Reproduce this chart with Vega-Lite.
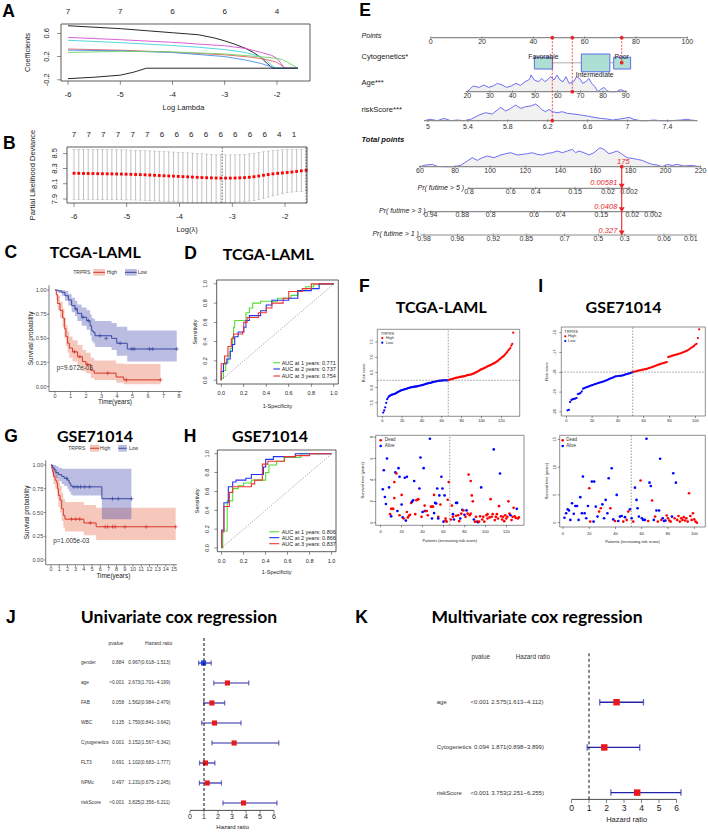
{
"$schema": "https://vega.github.io/schema/vega-lite/v6.json",
"width": 708, "height": 832,
"autosize": {"type": "none"},
"padding": 0,
"background": "white",
"config": {
  "view": {"stroke": null},
  "font": "Liberation Sans",
  "text": {"font": "Liberation Sans", "color": "#222"},
  "tick": {"color": "#222", "thickness": 0.7}
},
"datasets": {
  "lasso": [
    {"s":"k1","l":-6,"c":0.73},{"s":"k1","l":-5.5,"c":0.705},{"s":"k1","l":-5,"c":0.68},{"s":"k1","l":-4.5,"c":0.645},{"s":"k1","l":-4,"c":0.61},{"s":"k1","l":-3.5,"c":0.575},{"s":"k1","l":-3.2,"c":0.52},{"s":"k1","l":-3,"c":0.47},{"s":"k1","l":-2.8,"c":0.41},{"s":"k1","l":-2.6,"c":0.34},{"s":"k1","l":-2.45,"c":0.27},{"s":"k1","l":-2.3,"c":0.18},{"s":"k1","l":-2.2,"c":0.09},{"s":"k1","l":-2.08,"c":0},{"s":"k1","l":-1.6,"c":0},
    {"s":"mg","l":-6,"c":0.53},{"s":"mg","l":-5,"c":0.49},{"s":"mg","l":-4,"c":0.445},{"s":"mg","l":-3.5,"c":0.415},{"s":"mg","l":-3,"c":0.385},{"s":"mg","l":-2.6,"c":0.34},{"s":"mg","l":-2.3,"c":0.27},{"s":"mg","l":-2.1,"c":0.22},{"s":"mg","l":-2,"c":0.17},{"s":"mg","l":-1.92,"c":0.08},{"s":"mg","l":-1.86,"c":0},{"s":"mg","l":-1.6,"c":0},
    {"s":"cy","l":-6,"c":0.48},{"s":"cy","l":-5,"c":0.44},{"s":"cy","l":-4,"c":0.39},{"s":"cy","l":-3.5,"c":0.36},{"s":"cy","l":-3,"c":0.32},{"s":"cy","l":-2.6,"c":0.27},{"s":"cy","l":-2.35,"c":0.21},{"s":"cy","l":-2.2,"c":0.13},{"s":"cy","l":-2.1,"c":0.05},{"s":"cy","l":-2.02,"c":0},{"s":"cy","l":-1.6,"c":0},
    {"s":"rd","l":-6,"c":0.33},{"s":"rd","l":-5,"c":0.31},{"s":"rd","l":-4,"c":0.275},{"s":"rd","l":-3,"c":0.23},{"s":"rd","l":-2.5,"c":0.19},{"s":"rd","l":-2.2,"c":0.15},{"s":"rd","l":-2,"c":0.1},{"s":"rd","l":-1.9,"c":0.04},{"s":"rd","l":-1.85,"c":0},{"s":"rd","l":-1.6,"c":0},
    {"s":"bl","l":-6,"c":0.31},{"s":"bl","l":-5,"c":0.3},{"s":"bl","l":-4,"c":0.27},{"s":"bl","l":-3,"c":0.2},{"s":"bl","l":-2.6,"c":0.14},{"s":"bl","l":-2.3,"c":0.08},{"s":"bl","l":-2.1,"c":0.02},{"s":"bl","l":-2.05,"c":0},{"s":"bl","l":-1.6,"c":0},
    {"s":"gr","l":-6,"c":0.27},{"s":"gr","l":-5,"c":0.29},{"s":"gr","l":-4,"c":0.28},{"s":"gr","l":-3,"c":0.245},{"s":"gr","l":-2.5,"c":0.21},{"s":"gr","l":-2.1,"c":0.18},{"s":"gr","l":-1.9,"c":0.15},{"s":"gr","l":-1.75,"c":0.08},{"s":"gr","l":-1.6,"c":0},
    {"s":"k2","l":-6,"c":-0.18},{"s":"k2","l":-5.5,"c":-0.155},{"s":"k2","l":-5,"c":-0.12},{"s":"k2","l":-4.75,"c":-0.07},{"s":"k2","l":-4.5,"c":0},{"s":"k2","l":-1.6,"c":0}
  ],
  "cv": [
    {"l":-6.0,"d":8.238,"lo":7.896,"hi":8.552},{"l":-5.91,"d":8.237,"lo":7.896,"hi":8.552},{"l":-5.82,"d":8.236,"lo":7.896,"hi":8.552},{"l":-5.731,"d":8.235,"lo":7.896,"hi":8.551},{"l":-5.641,"d":8.234,"lo":7.895,"hi":8.551},{"l":-5.551,"d":8.233,"lo":7.895,"hi":8.55},{"l":-5.461,"d":8.232,"lo":7.894,"hi":8.55},{"l":-5.371,"d":8.231,"lo":7.894,"hi":8.549},{"l":-5.282,"d":8.23,"lo":7.893,"hi":8.548},{"l":-5.192,"d":8.229,"lo":7.892,"hi":8.547},
    {"l":-5.102,"d":8.228,"lo":7.891,"hi":8.546},{"l":-5.012,"d":8.226,"lo":7.89,"hi":8.544},{"l":-4.922,"d":8.224,"lo":7.889,"hi":8.542},{"l":-4.833,"d":8.222,"lo":7.887,"hi":8.54},{"l":-4.743,"d":8.22,"lo":7.885,"hi":8.537},{"l":-4.653,"d":8.218,"lo":7.883,"hi":8.534},{"l":-4.563,"d":8.215,"lo":7.88,"hi":8.531},{"l":-4.473,"d":8.212,"lo":7.877,"hi":8.528},{"l":-4.384,"d":8.209,"lo":7.874,"hi":8.525},{"l":-4.294,"d":8.206,"lo":7.871,"hi":8.522},
    {"l":-4.204,"d":8.203,"lo":7.868,"hi":8.519},{"l":-4.114,"d":8.2,"lo":7.865,"hi":8.516},{"l":-4.024,"d":8.197,"lo":7.862,"hi":8.513},{"l":-3.935,"d":8.194,"lo":7.86,"hi":8.51},{"l":-3.845,"d":8.191,"lo":7.858,"hi":8.506},{"l":-3.755,"d":8.188,"lo":7.856,"hi":8.502},{"l":-3.665,"d":8.185,"lo":7.855,"hi":8.498},{"l":-3.576,"d":8.182,"lo":7.854,"hi":8.494},{"l":-3.486,"d":8.18,"lo":7.853,"hi":8.49},{"l":-3.396,"d":8.178,"lo":7.852,"hi":8.486},
    {"l":-3.306,"d":8.176,"lo":7.852,"hi":8.482},{"l":-3.216,"d":8.175,"lo":7.852,"hi":8.48},{"l":-3.127,"d":8.175,"lo":7.853,"hi":8.479},{"l":-3.037,"d":8.175,"lo":7.855,"hi":8.479},{"l":-2.947,"d":8.176,"lo":7.858,"hi":8.48},{"l":-2.857,"d":8.178,"lo":7.862,"hi":8.482},{"l":-2.767,"d":8.181,"lo":7.867,"hi":8.486},{"l":-2.678,"d":8.186,"lo":7.874,"hi":8.492},{"l":-2.588,"d":8.193,"lo":7.883,"hi":8.5},{"l":-2.498,"d":8.202,"lo":7.895,"hi":8.51},
    {"l":-2.408,"d":8.212,"lo":7.91,"hi":8.52},{"l":-2.318,"d":8.222,"lo":7.925,"hi":8.53},{"l":-2.229,"d":8.23,"lo":7.94,"hi":8.538},{"l":-2.139,"d":8.237,"lo":7.955,"hi":8.543},{"l":-2.049,"d":8.243,"lo":7.97,"hi":8.547},{"l":-1.959,"d":8.249,"lo":7.983,"hi":8.55},{"l":-1.869,"d":8.255,"lo":7.992,"hi":8.552},{"l":-1.78,"d":8.262,"lo":7.998,"hi":8.553},{"l":-1.69,"d":8.27,"lo":8.002,"hi":8.554},{"l":-1.6,"d":8.278,"lo":8.005,"hi":8.555}
  ],
  "kmC": [
    {"g":"High","t":0,"s":1,"lo":1,"hi":1},{"g":"High","t":0.08,"s":0.95,"lo":0.9,"hi":1},{"g":"High","t":0.17,"s":0.86,"lo":0.79,"hi":0.94},{"g":"High","t":0.32,"s":0.79,"lo":0.71,"hi":0.88},{"g":"High","t":0.49,"s":0.71,"lo":0.62,"hi":0.81},{"g":"High","t":0.6,"s":0.6,"lo":0.5,"hi":0.71},{"g":"High","t":0.7,"s":0.52,"lo":0.42,"hi":0.64},{"g":"High","t":0.81,"s":0.45,"lo":0.35,"hi":0.57},{"g":"High","t":0.92,"s":0.4,"lo":0.3,"hi":0.52},{"g":"High","t":1.13,"s":0.36,"lo":0.26,"hi":0.48},{"g":"High","t":1.45,"s":0.31,"lo":0.21,"hi":0.43},{"g":"High","t":1.77,"s":0.26,"lo":0.16,"hi":0.38},{"g":"High","t":1.99,"s":0.23,"lo":0.14,"hi":0.35},{"g":"High","t":2.3,"s":0.17,"lo":0.09,"hi":0.3},{"g":"High","t":2.52,"s":0.14,"lo":0.07,"hi":0.27},{"g":"High","t":3.94,"s":0.1,"lo":0.04,"hi":0.24},{"g":"High","t":4.43,"s":0.07,"lo":0.025,"hi":0.235},{"g":"High","t":6.8,"s":0.07,"lo":0.025,"hi":0.235},
    {"g":"Low","t":0,"s":1,"lo":1,"hi":1},{"g":"Low","t":0.21,"s":0.99,"lo":0.97,"hi":1},{"g":"Low","t":0.43,"s":0.976,"lo":0.94,"hi":1},{"g":"Low","t":0.64,"s":0.941,"lo":0.89,"hi":0.99},{"g":"Low","t":0.86,"s":0.897,"lo":0.84,"hi":0.96},{"g":"Low","t":1.07,"s":0.838,"lo":0.77,"hi":0.92},{"g":"Low","t":1.29,"s":0.804,"lo":0.73,"hi":0.89},{"g":"Low","t":1.44,"s":0.759,"lo":0.68,"hi":0.85},{"g":"Low","t":1.72,"s":0.718,"lo":0.63,"hi":0.82},{"g":"Low","t":2.04,"s":0.683,"lo":0.59,"hi":0.79},{"g":"Low","t":2.26,"s":0.631,"lo":0.53,"hi":0.75},{"g":"Low","t":2.36,"s":0.579,"lo":0.47,"hi":0.71},{"g":"Low","t":2.47,"s":0.562,"lo":0.45,"hi":0.7},{"g":"Low","t":2.58,"s":0.527,"lo":0.41,"hi":0.68},{"g":"Low","t":3.65,"s":0.5,"lo":0.38,"hi":0.66},{"g":"Low","t":3.98,"s":0.449,"lo":0.32,"hi":0.62},{"g":"Low","t":4.66,"s":0.39,"lo":0.26,"hi":0.58},{"g":"Low","t":7.85,"s":0.39,"lo":0.26,"hi":0.58}
  ],
  "censC": [
    {"g":"High","t":1.25,"s":0.36},{"g":"High","t":1.6,"s":0.31},{"g":"High","t":2.1,"s":0.23},{"g":"High","t":3.4,"s":0.14},{"g":"High","t":4.6,"s":0.07},{"g":"High","t":6.8,"s":0.07},
    {"g":"Low","t":1.35,"s":0.804},{"g":"Low","t":1.8,"s":0.718},{"g":"Low","t":2.15,"s":0.683},{"g":"Low","t":2.9,"s":0.527},{"g":"Low","t":3.3,"s":0.5},{"g":"Low","t":4.2,"s":0.449},{"g":"Low","t":4.95,"s":0.39},{"g":"Low","t":5.1,"s":0.39},{"g":"Low","t":6.1,"s":0.39},{"g":"Low","t":6.3,"s":0.39},{"g":"Low","t":7.85,"s":0.39}
  ],
  "kmG": [
    {"g":"High","t":0,"s":1,"lo":1,"hi":1},{"g":"High","t":0.1,"s":0.96,"lo":0.91,"hi":1},{"g":"High","t":0.2,"s":0.93,"lo":0.86,"hi":1},{"g":"High","t":0.3,"s":0.88,"lo":0.8,"hi":0.97},{"g":"High","t":0.5,"s":0.84,"lo":0.75,"hi":0.94},{"g":"High","t":0.7,"s":0.81,"lo":0.71,"hi":0.92},{"g":"High","t":0.8,"s":0.75,"lo":0.64,"hi":0.87},{"g":"High","t":0.9,"s":0.68,"lo":0.56,"hi":0.82},{"g":"High","t":1.1,"s":0.63,"lo":0.5,"hi":0.78},{"g":"High","t":1.3,"s":0.54,"lo":0.41,"hi":0.7},{"g":"High","t":1.5,"s":0.47,"lo":0.34,"hi":0.64},{"g":"High","t":1.7,"s":0.43,"lo":0.3,"hi":0.61},{"g":"High","t":4.0,"s":0.39,"lo":0.26,"hi":0.58},{"g":"High","t":5.5,"s":0.35,"lo":0.21,"hi":0.55},{"g":"High","t":15.2,"s":0.35,"lo":0.21,"hi":0.55},
    {"g":"Low","t":0,"s":1,"lo":1,"hi":1},{"g":"Low","t":0.2,"s":0.97,"lo":0.92,"hi":1},{"g":"Low","t":0.4,"s":0.95,"lo":0.89,"hi":1},{"g":"Low","t":0.6,"s":0.92,"lo":0.86,"hi":0.99},{"g":"Low","t":0.9,"s":0.9,"lo":0.83,"hi":0.97},{"g":"Low","t":1.3,"s":0.88,"lo":0.8,"hi":0.96},{"g":"Low","t":1.6,"s":0.86,"lo":0.78,"hi":0.96},{"g":"Low","t":2.0,"s":0.84,"lo":0.75,"hi":0.96},{"g":"Low","t":2.2,"s":0.81,"lo":0.72,"hi":0.96},{"g":"Low","t":2.4,"s":0.78,"lo":0.69,"hi":0.96},{"g":"Low","t":2.6,"s":0.77,"lo":0.68,"hi":0.96},{"g":"Low","t":6.2,"s":0.645,"lo":0.43,"hi":0.96},{"g":"Low","t":9.8,"s":0.645,"lo":0.43,"hi":0.96}
  ],
  "censG": [
    {"g":"High","t":2.5,"s":0.43},{"g":"High","t":3.0,"s":0.43},{"g":"High","t":3.5,"s":0.43},{"g":"High","t":4.8,"s":0.39},{"g":"High","t":6.6,"s":0.35},{"g":"High","t":6.9,"s":0.35},{"g":"High","t":7.5,"s":0.35},{"g":"High","t":7.8,"s":0.35},{"g":"High","t":9.0,"s":0.35},{"g":"High","t":11.6,"s":0.35},{"g":"High","t":15.2,"s":0.35},
    {"g":"Low","t":1.9,"s":0.86},{"g":"Low","t":2.8,"s":0.77},{"g":"Low","t":3.2,"s":0.77},{"g":"Low","t":3.6,"s":0.77},{"g":"Low","t":4.1,"s":0.77},{"g":"Low","t":4.7,"s":0.77},{"g":"Low","t":7.5,"s":0.645},{"g":"Low","t":8.2,"s":0.645},{"g":"Low","t":9.8,"s":0.645}
  ],
  "rocD": [
    {"c":"1","x":0,"y":0},{"c":"1","x":0.02,"y":0.02},{"c":"1","x":0.04,"y":0.1},{"c":"1","x":0.06,"y":0.18},{"c":"1","x":0.08,"y":0.25},{"c":"1","x":0.1,"y":0.33},{"c":"1","x":0.11,"y":0.45},{"c":"1","x":0.12,"y":0.55},{"c":"1","x":0.22,"y":0.62},{"c":"1","x":0.25,"y":0.7},{"c":"1","x":0.28,"y":0.75},{"c":"1","x":0.35,"y":0.8},{"c":"1","x":0.5,"y":0.82},{"c":"1","x":0.62,"y":0.85},{"c":"1","x":0.68,"y":0.88},{"c":"1","x":0.75,"y":0.93},{"c":"1","x":0.82,"y":0.97},{"c":"1","x":0.87,"y":0.99},{"c":"1","x":1,"y":1},
    {"c":"2","x":0,"y":0},{"c":"2","x":0.02,"y":0.09},{"c":"2","x":0.05,"y":0.17},{"c":"2","x":0.08,"y":0.22},{"c":"2","x":0.1,"y":0.3},{"c":"2","x":0.12,"y":0.37},{"c":"2","x":0.15,"y":0.45},{"c":"2","x":0.2,"y":0.5},{"c":"2","x":0.22,"y":0.55},{"c":"2","x":0.25,"y":0.62},{"c":"2","x":0.35,"y":0.67},{"c":"2","x":0.4,"y":0.72},{"c":"2","x":0.45,"y":0.78},{"c":"2","x":0.6,"y":0.83},{"c":"2","x":0.68,"y":0.85},{"c":"2","x":0.8,"y":0.93},{"c":"2","x":0.87,"y":0.95},{"c":"2","x":1,"y":1},
    {"c":"3","x":0,"y":0},{"c":"3","x":0.03,"y":0.17},{"c":"3","x":0.06,"y":0.25},{"c":"3","x":0.09,"y":0.35},{"c":"3","x":0.11,"y":0.43},{"c":"3","x":0.19,"y":0.48},{"c":"3","x":0.2,"y":0.5},{"c":"3","x":0.23,"y":0.6},{"c":"3","x":0.33,"y":0.65},{"c":"3","x":0.4,"y":0.7},{"c":"3","x":0.45,"y":0.75},{"c":"3","x":0.55,"y":0.8},{"c":"3","x":0.6,"y":0.85},{"c":"3","x":0.72,"y":0.92},{"c":"3","x":0.8,"y":0.95},{"c":"3","x":1,"y":1}
  ],
  "rocH": [
    {"c":"1","x":0,"y":0},{"c":"1","x":0.01,"y":0},{"c":"1","x":0.05,"y":0.18},{"c":"1","x":0.1,"y":0.5},{"c":"1","x":0.15,"y":0.63},{"c":"1","x":0.2,"y":0.66},{"c":"1","x":0.27,"y":0.69},{"c":"1","x":0.4,"y":0.72},{"c":"1","x":0.43,"y":0.8},{"c":"1","x":0.5,"y":0.88},{"c":"1","x":0.57,"y":0.92},{"c":"1","x":0.72,"y":0.96},{"c":"1","x":1,"y":1},
    {"c":"2","x":0,"y":0},{"c":"2","x":0.02,"y":0.19},{"c":"2","x":0.06,"y":0.48},{"c":"2","x":0.1,"y":0.65},{"c":"2","x":0.13,"y":0.7},{"c":"2","x":0.22,"y":0.72},{"c":"2","x":0.27,"y":0.74},{"c":"2","x":0.38,"y":0.78},{"c":"2","x":0.4,"y":0.86},{"c":"2","x":0.47,"y":0.94},{"c":"2","x":0.67,"y":0.97},{"c":"2","x":1,"y":1},
    {"c":"3","x":0,"y":0},{"c":"3","x":0.02,"y":0.17},{"c":"3","x":0.07,"y":0.44},{"c":"3","x":0.1,"y":0.59},{"c":"3","x":0.27,"y":0.65},{"c":"3","x":0.3,"y":0.68},{"c":"3","x":0.37,"y":0.72},{"c":"3","x":0.42,"y":0.89},{"c":"3","x":0.57,"y":0.92},{"c":"3","x":0.67,"y":0.97},{"c":"3","x":0.8,"y":0.98},{"c":"3","x":1,"y":1}
  ],
  "ageD": [
    {"x":14.26,"y":2.668},{"x":15.58,"y":2.536},{"x":16.55,"y":2.44},{"x":18.93,"y":2.496},{"x":20.7,"y":2.4},{"x":22.55,"y":2.496},{"x":24.31,"y":2.44},{"x":26.07,"y":2.336},{"x":27.84,"y":2.4},{"x":29.6,"y":2.496},{"x":31.36,"y":2.44},{"x":33.22,"y":2.336},{"x":34.98,"y":2.416},{"x":36.74,"y":2.268},{"x":38.51,"y":2.176},{"x":39.12,"y":2.0},{"x":40.36,"y":2.2},{"x":42.12,"y":2.268},{"x":43.27,"y":2.136},{"x":44.5,"y":2.268},{"x":45.65,"y":2.176},{"x":46.79,"y":2.068},{"x":48.03,"y":2.2},{"x":49.17,"y":2.0},{"x":50.41,"y":2.2},{"x":51.55,"y":2.268},{"x":52.7,"y":2.068},{"x":53.94,"y":2.336},{"x":55.7,"y":2.268},{"x":56.85,"y":2.068},{"x":58.35,"y":2.176},{"x":59.23,"y":2.336},{"x":60.46,"y":2.268},{"x":61.61,"y":2.136},{"x":62.75,"y":2.336},{"x":63.99,"y":2.468},{"x":65.13,"y":2.668},{"x":66.28,"y":2.576},{"x":67.51,"y":2.496},{"x":68.66,"y":2.628},{"x":69.81,"y":2.668},{"x":72.45,"y":2.668},{"x":73.33,"y":2.608},{"x":74.22,"y":2.588},{"x":75.1,"y":2.628},{"x":75.98,"y":2.668}
  ],
  "riskD": [
    {"x":-2.61,"y":3.828},{"x":-0.01,"y":3.775},{"x":2.59,"y":3.828},{"x":5.19,"y":3.735},{"x":7.79,"y":3.828},{"x":10.38,"y":3.801},{"x":12.98,"y":3.828},{"x":15.58,"y":3.775},{"x":18.83,"y":3.601},{"x":21.42,"y":3.508},{"x":24.02,"y":3.561},{"x":25.97,"y":3.401},{"x":27.27,"y":3.295},{"x":29.22,"y":3.441},{"x":31.16,"y":3.335},{"x":33.11,"y":3.201},{"x":35.06,"y":3.335},{"x":37.0,"y":3.268},{"x":38.95,"y":3.241},{"x":40.9,"y":3.161},{"x":42.2,"y":3.268},{"x":43.5,"y":3.401},{"x":44.8,"y":3.468},{"x":46.09,"y":3.375},{"x":47.39,"y":3.468},{"x":49.34,"y":3.508},{"x":51.29,"y":3.468},{"x":53.24,"y":3.535},{"x":55.83,"y":3.561},{"x":58.43,"y":3.601},{"x":61.03,"y":3.641},{"x":63.63,"y":3.695},{"x":66.22,"y":3.735},{"x":68.82,"y":3.761},{"x":70.77,"y":3.801},{"x":72.72,"y":3.775},{"x":75.32,"y":3.735},{"x":77.27,"y":3.695},{"x":79.21,"y":3.775},{"x":81.81,"y":3.828},{"x":84.41,"y":3.828},{"x":87.01,"y":3.801},{"x":89.6,"y":3.828},{"x":93.5,"y":3.828},{"x":97.4,"y":3.801},{"x":100.0,"y":3.775},{"x":101.3,"y":3.801},{"x":103.9,"y":3.828}
  ],
  "totD": [
    {"x":-4.17,"y":5.668},{"x":-1.96,"y":5.601},{"x":0.64,"y":5.575},{"x":2.58,"y":5.655},{"x":5.18,"y":5.668},{"x":9.07,"y":5.668},{"x":11.67,"y":5.615},{"x":14.27,"y":5.441},{"x":16.22,"y":5.308},{"x":18.17,"y":5.415},{"x":20.11,"y":5.308},{"x":22.06,"y":5.241},{"x":24.66,"y":5.308},{"x":27.26,"y":5.201},{"x":29.2,"y":5.148},{"x":31.15,"y":5.108},{"x":33.75,"y":5.201},{"x":35.7,"y":5.175},{"x":37.64,"y":5.148},{"x":39.59,"y":5.108},{"x":41.54,"y":5.175},{"x":43.49,"y":5.201},{"x":45.43,"y":5.135},{"x":47.38,"y":5.108},{"x":49.33,"y":5.041},{"x":51.28,"y":5.108},{"x":53.23,"y":5.041},{"x":55.17,"y":4.975},{"x":56.47,"y":5.108},{"x":57.77,"y":5.041},{"x":59.72,"y":5.108},{"x":61.67,"y":5.201},{"x":63.61,"y":5.108},{"x":65.95,"y":4.908},{"x":67.51,"y":4.975},{"x":69.46,"y":5.148},{"x":70.76,"y":5.108},{"x":72.71,"y":5.041},{"x":74.65,"y":5.175},{"x":76.6,"y":5.308},{"x":78.55,"y":5.335},{"x":80.5,"y":5.375},{"x":82.45,"y":5.415},{"x":84.4,"y":5.508},{"x":86.35,"y":5.575},{"x":88.29,"y":5.601},{"x":90.24,"y":5.668},{"x":92.19,"y":5.575},{"x":94.14,"y":5.615},{"x":96.09,"y":5.575},{"x":98.68,"y":5.641},{"x":101.28,"y":5.615},{"x":105.18,"y":5.668}
  ],
  "nomAx": [
    {"y":0.508,"a":0,"b":100},{"y":2.668,"a":13.6,"b":76.6},{"y":3.828,"a":-2.6,"b":103.9},{"y":5.668,"a":-4.56,"b":105.2},{"y":6.532,"a":14.27,"b":77.9},{"y":7.468,"a":-1.3,"b":87.7},{"y":8.4,"a":-4.0,"b":103.8}
  ],
  "nomTk": [
    {"x":0,"ay":0.508,"ly":0.66,"t":"0"},{"x":20,"ay":0.508,"ly":0.66,"t":"20"},{"x":40,"ay":0.508,"ly":0.66,"t":"40"},{"x":60,"ay":0.508,"ly":0.66,"t":"60"},{"x":80,"ay":0.508,"ly":0.66,"t":"80"},{"x":100,"ay":0.508,"ly":0.66,"t":"100"},
    {"x":14.26,"ay":2.668,"ly":2.84,"t":"20"},{"x":23.08,"ay":2.668,"ly":2.84,"t":"30"},{"x":31.89,"ay":2.668,"ly":2.84,"t":"40"},{"x":40.71,"ay":2.668,"ly":2.84,"t":"50"},{"x":49.53,"ay":2.668,"ly":2.84,"t":"60"},{"x":58.35,"ay":2.668,"ly":2.84,"t":"70"},{"x":67.16,"ay":2.668,"ly":2.84,"t":"80"},{"x":75.98,"ay":2.668,"ly":2.84,"t":"90"},
    {"x":-1.05,"ay":3.828,"ly":4.07,"t":"5"},{"x":14.5,"ay":3.828,"ly":4.07,"t":"5.4"},{"x":30.05,"ay":3.828,"ly":4.07,"t":"5.8"},{"x":45.6,"ay":3.828,"ly":4.07,"t":"6.2"},{"x":61.15,"ay":3.828,"ly":4.07,"t":"6.6"},{"x":76.7,"ay":3.828,"ly":4.07,"t":"7"},{"x":92.25,"ay":3.828,"ly":4.07,"t":"7.4"},
    {"x":-4.17,"ay":5.668,"ly":5.82,"t":"60"},{"x":9.5,"ay":5.668,"ly":5.82,"t":"80"},{"x":23.17,"ay":5.668,"ly":5.82,"t":"100"},{"x":36.84,"ay":5.668,"ly":5.82,"t":"120"},{"x":50.51,"ay":5.668,"ly":5.82,"t":"140"},{"x":64.18,"ay":5.668,"ly":5.82,"t":"160"},{"x":77.85,"ay":5.668,"ly":5.82,"t":"180"},{"x":91.52,"ay":5.668,"ly":5.82,"t":"200"},{"x":105.19,"ay":5.668,"ly":5.82,"t":"220"},
    {"x":14.93,"ay":6.532,"ly":6.69,"t":"0.8"},{"x":31.18,"ay":6.532,"ly":6.69,"t":"0.6"},{"x":40.92,"ay":6.532,"ly":6.69,"t":"0.4"},{"x":56.24,"ay":6.532,"ly":6.69,"t":"0.15"},{"x":69.1,"ay":6.532,"ly":6.69,"t":"0.02"},{"x":77.28,"ay":6.532,"ly":6.69,"t":"0.002"},
    {"x":0,"ay":7.468,"ly":7.61,"t":"0.94"},{"x":12.31,"ay":7.468,"ly":7.61,"t":"0.88"},{"x":23.38,"ay":7.468,"ly":7.61,"t":"0.8"},{"x":40.26,"ay":7.468,"ly":7.61,"t":"0.6"},{"x":50.66,"ay":7.468,"ly":7.61,"t":"0.4"},{"x":66.48,"ay":7.468,"ly":7.61,"t":"0.15"},{"x":78.57,"ay":7.468,"ly":7.61,"t":"0.02"},{"x":86.63,"ay":7.468,"ly":7.61,"t":"0.002"},
    {"x":-2.61,"ay":8.4,"ly":8.55,"t":"0.98"},{"x":10.37,"ay":8.4,"ly":8.55,"t":"0.96"},{"x":24.4,"ay":8.4,"ly":8.55,"t":"0.92"},{"x":37.26,"ay":8.4,"ly":8.55,"t":"0.85"},{"x":52.22,"ay":8.4,"ly":8.55,"t":"0.7"},{"x":65.32,"ay":8.4,"ly":8.55,"t":"0.5"},{"x":75.6,"ay":8.4,"ly":8.55,"t":"0.3"},{"x":90.92,"ay":8.4,"ly":8.55,"t":"0.06"},{"x":101.33,"ay":8.4,"ly":8.55,"t":"0.01"}
  ],
  "riskF": [
    {"p":1,"v":5.18,"g":"L"},{"p":2,"v":5.25,"g":"L"},{"p":3,"v":5.35,"g":"L"},{"p":4,"v":5.5,"g":"L"},{"p":5,"v":5.62,"g":"L"},{"p":6,"v":5.68,"g":"L"},{"p":7,"v":5.72,"g":"L"},{"p":8,"v":5.74,"g":"L"},{"p":9,"v":5.76,"g":"L"},{"p":10,"v":5.77,"g":"L"},{"p":11,"v":5.78,"g":"L"},{"p":12,"v":5.79,"g":"L"},{"p":13,"v":5.8,"g":"L"},{"p":14,"v":5.82,"g":"L"},{"p":15,"v":5.84,"g":"L"},{"p":16,"v":5.86,"g":"L"},{"p":17,"v":5.88,"g":"L"},{"p":18,"v":5.89,"g":"L"},{"p":19,"v":5.91,"g":"L"},{"p":20,"v":5.92,"g":"L"},{"p":21,"v":5.93,"g":"L"},{"p":22,"v":5.94,"g":"L"},{"p":23,"v":5.95,"g":"L"},{"p":24,"v":5.96,"g":"L"},{"p":25,"v":5.97,"g":"L"},{"p":26,"v":5.98,"g":"L"},{"p":27,"v":5.99,"g":"L"},{"p":28,"v":6.0,"g":"L"},{"p":29,"v":6.01,"g":"L"},{"p":30,"v":6.02,"g":"L"},{"p":31,"v":6.02,"g":"L"},{"p":32,"v":6.03,"g":"L"},{"p":33,"v":6.03,"g":"L"},{"p":34,"v":6.04,"g":"L"},{"p":35,"v":6.04,"g":"L"},{"p":36,"v":6.05,"g":"L"},{"p":37,"v":6.06,"g":"L"},{"p":38,"v":6.07,"g":"L"},{"p":39,"v":6.07,"g":"L"},{"p":40,"v":6.08,"g":"L"},{"p":41,"v":6.09,"g":"L"},{"p":42,"v":6.1,"g":"L"},{"p":43,"v":6.11,"g":"L"},{"p":44,"v":6.12,"g":"L"},{"p":45,"v":6.13,"g":"L"},{"p":46,"v":6.14,"g":"L"},{"p":47,"v":6.15,"g":"L"},{"p":48,"v":6.16,"g":"L"},{"p":49,"v":6.16,"g":"L"},{"p":50,"v":6.17,"g":"L"},{"p":51,"v":6.18,"g":"L"},{"p":52,"v":6.19,"g":"L"},{"p":53,"v":6.2,"g":"L"},{"p":54,"v":6.2,"g":"L"},{"p":55,"v":6.21,"g":"L"},{"p":56,"v":6.22,"g":"L"},{"p":57,"v":6.22,"g":"L"},{"p":58,"v":6.23,"g":"L"},{"p":59,"v":6.23,"g":"L"},{"p":60,"v":6.23,"g":"L"},{"p":61,"v":6.24,"g":"L"},{"p":62,"v":6.24,"g":"L"},{"p":63,"v":6.24,"g":"L"},{"p":64,"v":6.24,"g":"L"},{"p":65,"v":6.24,"g":"L"},{"p":66,"v":6.24,"g":"L"},
    {"p":67,"v":6.25,"g":"H"},{"p":68,"v":6.26,"g":"H"},{"p":69,"v":6.27,"g":"H"},{"p":70,"v":6.28,"g":"H"},{"p":71,"v":6.29,"g":"H"},{"p":72,"v":6.3,"g":"H"},{"p":73,"v":6.31,"g":"H"},{"p":74,"v":6.32,"g":"H"},{"p":75,"v":6.33,"g":"H"},{"p":76,"v":6.33,"g":"H"},{"p":77,"v":6.34,"g":"H"},{"p":78,"v":6.35,"g":"H"},{"p":79,"v":6.35,"g":"H"},{"p":80,"v":6.36,"g":"H"},{"p":81,"v":6.37,"g":"H"},{"p":82,"v":6.37,"g":"H"},{"p":83,"v":6.38,"g":"H"},{"p":84,"v":6.39,"g":"H"},{"p":85,"v":6.4,"g":"H"},{"p":86,"v":6.41,"g":"H"},{"p":87,"v":6.42,"g":"H"},{"p":88,"v":6.42,"g":"H"},{"p":89,"v":6.43,"g":"H"},{"p":90,"v":6.44,"g":"H"},{"p":91,"v":6.45,"g":"H"},{"p":92,"v":6.46,"g":"H"},{"p":93,"v":6.48,"g":"H"},{"p":94,"v":6.5,"g":"H"},{"p":95,"v":6.51,"g":"H"},{"p":96,"v":6.53,"g":"H"},{"p":97,"v":6.55,"g":"H"},{"p":98,"v":6.57,"g":"H"},{"p":99,"v":6.59,"g":"H"},{"p":100,"v":6.6,"g":"H"},{"p":101,"v":6.62,"g":"H"},{"p":102,"v":6.63,"g":"H"},{"p":103,"v":6.65,"g":"H"},{"p":104,"v":6.66,"g":"H"},{"p":105,"v":6.68,"g":"H"},{"p":106,"v":6.7,"g":"H"},{"p":107,"v":6.71,"g":"H"},{"p":108,"v":6.73,"g":"H"},{"p":109,"v":6.74,"g":"H"},{"p":110,"v":6.76,"g":"H"},{"p":111,"v":6.78,"g":"H"},{"p":112,"v":6.79,"g":"H"},{"p":113,"v":6.81,"g":"H"},{"p":114,"v":6.83,"g":"H"},{"p":115,"v":6.85,"g":"H"},{"p":116,"v":6.87,"g":"H"},{"p":117,"v":6.9,"g":"H"},{"p":118,"v":6.93,"g":"H"},{"p":119,"v":6.95,"g":"H"},{"p":120,"v":6.98,"g":"H"},{"p":121,"v":7.01,"g":"H"},{"p":122,"v":7.03,"g":"H"},{"p":123,"v":7.06,"g":"H"},{"p":124,"v":7.1,"g":"H"},{"p":125,"v":7.14,"g":"H"},{"p":126,"v":7.18,"g":"H"},{"p":127,"v":7.23,"g":"H"},{"p":128,"v":7.26,"g":"H"},{"p":129,"v":7.3,"g":"H"},{"p":130,"v":7.38,"g":"H"},{"p":131,"v":7.44,"g":"H"},{"p":132,"v":7.81,"g":"H"}
  ],
  "survF": [
    {"p":2,"t":3.13,"s":"A"},{"p":3,"t":4.9,"s":"A"},{"p":4,"t":2.4,"s":"A"},{"p":5,"t":1.75,"s":"A"},{"p":6,"t":6.0,"s":"A"},{"p":8,"t":3.3,"s":"A"},{"p":9,"t":0.8,"s":"D"},{"p":10,"t":1.3,"s":"D"},{"p":10,"t":0.6,"s":"A"},{"p":11,"t":1.3,"s":"D"},{"p":12,"t":1.3,"s":"D"},{"p":13,"t":2.3,"s":"D"},{"p":13,"t":3.8,"s":"D"},{"p":14,"t":4.7,"s":"A"},{"p":15,"t":4.6,"s":"D"},{"p":16,"t":1.1,"s":"A"},{"p":17,"t":5.1,"s":"A"},{"p":18,"t":4.3,"s":"A"},{"p":18,"t":0.7,"s":"D"},{"p":20,"t":2.6,"s":"D"},{"p":20,"t":1.7,"s":"A"},{"p":21,"t":0.5,"s":"A"},{"p":22,"t":0.4,"s":"D"},{"p":23,"t":4.2,"s":"A"},{"p":24,"t":0.2,"s":"A"},{"p":25,"t":4.3,"s":"A"},{"p":25,"t":1.0,"s":"D"},{"p":26,"t":0.5,"s":"D"},{"p":27,"t":0.65,"s":"D"},{"p":28,"t":0.75,"s":"D"},
    {"p":29,"t":1.85,"s":"D"},{"p":30,"t":1.95,"s":"A"},{"p":31,"t":2.1,"s":"A"},{"p":32,"t":3.9,"s":"A"},{"p":33,"t":0.8,"s":"D"},{"p":34,"t":2.1,"s":"D"},{"p":35,"t":2.15,"s":"D"},{"p":36,"t":2.2,"s":"D"},{"p":37,"t":3.2,"s":"A"},{"p":38,"t":6.1,"s":"A"},{"p":39,"t":0.55,"s":"D"},{"p":40,"t":1.0,"s":"A"},{"p":41,"t":5.1,"s":"A"},{"p":42,"t":1.6,"s":"D"},{"p":42,"t":1.1,"s":"A"},{"p":43,"t":1.1,"s":"D"},{"p":44,"t":1.1,"s":"D"},{"p":45,"t":0.7,"s":"D"},{"p":47,"t":7.85,"s":"A"},{"p":48,"t":1.5,"s":"D"},{"p":49,"t":0.4,"s":"A"},{"p":49,"t":1.5,"s":"D"},{"p":50,"t":1.5,"s":"D"},{"p":51,"t":2.6,"s":"D"},{"p":51,"t":0.9,"s":"A"},{"p":52,"t":1.85,"s":"A"},{"p":53,"t":1.8,"s":"A"},{"p":54,"t":3.2,"s":"A"},{"p":55,"t":0.55,"s":"D"},{"p":55,"t":0.4,"s":"A"},
    {"p":56,"t":2.55,"s":"A"},{"p":57,"t":1.7,"s":"D"},{"p":58,"t":4.3,"s":"A"},{"p":59,"t":3.2,"s":"A"},{"p":60,"t":0.1,"s":"A"},{"p":61,"t":2.55,"s":"A"},{"p":62,"t":0.2,"s":"D"},{"p":62,"t":0.4,"s":"D"},{"p":63,"t":0.1,"s":"D"},{"p":64,"t":2.15,"s":"D"},{"p":65,"t":3.8,"s":"D"},{"p":67,"t":0.3,"s":"D"},{"p":68,"t":1.6,"s":"D"},{"p":69,"t":0.8,"s":"A"},{"p":69,"t":0.55,"s":"D"},{"p":70,"t":0.3,"s":"A"},{"p":72,"t":1.85,"s":"A"},{"p":72,"t":0.65,"s":"D"},{"p":73,"t":1.85,"s":"A"},{"p":74,"t":0.7,"s":"D"},{"p":75,"t":0.15,"s":"D"},{"p":76,"t":0.4,"s":"A"},{"p":77,"t":0.85,"s":"D"},{"p":78,"t":1.2,"s":"A"},{"p":79,"t":1.15,"s":"D"},{"p":80,"t":0.75,"s":"A"},{"p":81,"t":0.55,"s":"D"},{"p":82,"t":1.15,"s":"A"},{"p":83,"t":0.85,"s":"D"},{"p":84,"t":4.5,"s":"D"},
    {"p":85,"t":0.7,"s":"D"},{"p":86,"t":0.85,"s":"D"},{"p":86,"t":3.9,"s":"D"},{"p":87,"t":2.55,"s":"D"},{"p":88,"t":2.0,"s":"D"},{"p":89,"t":0.3,"s":"A"},{"p":90,"t":0.1,"s":"D"},{"p":91,"t":0.55,"s":"D"},{"p":92,"t":0.1,"s":"D"},{"p":93,"t":0.05,"s":"A"},{"p":94,"t":0.1,"s":"D"},{"p":95,"t":0.6,"s":"D"},{"p":96,"t":3.3,"s":"A"},{"p":97,"t":0.3,"s":"D"},{"p":98,"t":0.55,"s":"D"},{"p":99,"t":0.1,"s":"D"},{"p":101,"t":0.7,"s":"D"},{"p":102,"t":0.4,"s":"D"},{"p":102,"t":0.8,"s":"D"},{"p":104,"t":0.5,"s":"D"},{"p":105,"t":2.2,"s":"D"},{"p":106,"t":0.55,"s":"D"},{"p":107,"t":0.8,"s":"D"},{"p":108,"t":6.85,"s":"A"},{"p":109,"t":0.25,"s":"D"},{"p":110,"t":0.55,"s":"D"},{"p":111,"t":0.8,"s":"D"},{"p":112,"t":0.4,"s":"D"},{"p":113,"t":1.55,"s":"D"},{"p":114,"t":4.6,"s":"A"},
    {"p":115,"t":0.6,"s":"D"},{"p":116,"t":0.3,"s":"D"},{"p":117,"t":0.55,"s":"D"},{"p":118,"t":0.15,"s":"D"},{"p":119,"t":0.7,"s":"D"},{"p":120,"t":0.4,"s":"D"},{"p":121,"t":0.55,"s":"D"},{"p":122,"t":2.0,"s":"D"},{"p":123,"t":0.85,"s":"D"},{"p":124,"t":0.7,"s":"A"},{"p":125,"t":0.25,"s":"D"},{"p":126,"t":0.55,"s":"D"},{"p":127,"t":1.4,"s":"D"},{"p":128,"t":0.6,"s":"D"},{"p":129,"t":0.45,"s":"D"},{"p":130,"t":1.3,"s":"A"},{"p":131,"t":0.4,"s":"D"},{"p":132,"t":0.5,"s":"D"}
  ],
  "riskI": [
    {"p":1,"v":-19.92,"g":"L"},{"p":2,"v":-19.9,"g":"L"},{"p":3,"v":-19.5,"g":"L"},{"p":4,"v":-19.4,"g":"L"},{"p":5,"v":-19.36,"g":"L"},{"p":6,"v":-19.34,"g":"L"},{"p":7,"v":-19.33,"g":"L"},{"p":8,"v":-19.3,"g":"L"},{"p":9,"v":-19.1,"g":"L"},{"p":10,"v":-19.08,"g":"L"},{"p":11,"v":-19.05,"g":"L"},{"p":12,"v":-18.97,"g":"L"},{"p":13,"v":-18.83,"g":"L"},{"p":14,"v":-18.8,"g":"L"},{"p":15,"v":-18.77,"g":"L"},{"p":16,"v":-18.75,"g":"L"},{"p":17,"v":-18.72,"g":"L"},{"p":18,"v":-18.7,"g":"L"},{"p":19,"v":-18.67,"g":"L"},{"p":20,"v":-18.65,"g":"L"},{"p":21,"v":-18.63,"g":"L"},{"p":22,"v":-18.6,"g":"L"},{"p":23,"v":-18.58,"g":"L"},{"p":24,"v":-18.56,"g":"L"},{"p":25,"v":-18.54,"g":"L"},{"p":26,"v":-18.52,"g":"L"},{"p":27,"v":-18.5,"g":"L"},{"p":28,"v":-18.48,"g":"L"},{"p":29,"v":-18.46,"g":"L"},{"p":30,"v":-18.43,"g":"L"},{"p":31,"v":-18.41,"g":"L"},{"p":32,"v":-18.38,"g":"L"},{"p":33,"v":-18.35,"g":"L"},{"p":34,"v":-18.32,"g":"L"},{"p":35,"v":-18.3,"g":"L"},{"p":36,"v":-18.27,"g":"L"},{"p":37,"v":-18.24,"g":"L"},{"p":38,"v":-18.21,"g":"L"},{"p":39,"v":-18.2,"g":"L"},{"p":40,"v":-18.19,"g":"L"},{"p":41,"v":-18.18,"g":"L"},{"p":42,"v":-18.18,"g":"L"},{"p":43,"v":-18.17,"g":"L"},{"p":44,"v":-18.15,"g":"L"},{"p":45,"v":-18.13,"g":"L"},{"p":46,"v":-18.11,"g":"L"},{"p":47,"v":-18.09,"g":"L"},{"p":48,"v":-18.07,"g":"L"},{"p":49,"v":-18.05,"g":"L"},{"p":50,"v":-18.03,"g":"L"},{"p":51,"v":-18.0,"g":"L"},
    {"p":52,"v":-17.98,"g":"H"},{"p":53,"v":-17.96,"g":"H"},{"p":54,"v":-17.95,"g":"H"},{"p":55,"v":-17.93,"g":"H"},{"p":56,"v":-17.91,"g":"H"},{"p":57,"v":-17.9,"g":"H"},{"p":58,"v":-17.89,"g":"H"},{"p":59,"v":-17.87,"g":"H"},{"p":60,"v":-17.86,"g":"H"},{"p":61,"v":-17.84,"g":"H"},{"p":62,"v":-17.83,"g":"H"},{"p":63,"v":-17.81,"g":"H"},{"p":64,"v":-17.79,"g":"H"},{"p":65,"v":-17.77,"g":"H"},{"p":66,"v":-17.75,"g":"H"},{"p":67,"v":-17.73,"g":"H"},{"p":68,"v":-17.7,"g":"H"},{"p":69,"v":-17.67,"g":"H"},{"p":70,"v":-17.65,"g":"H"},{"p":71,"v":-17.63,"g":"H"},{"p":72,"v":-17.6,"g":"H"},{"p":73,"v":-17.58,"g":"H"},{"p":74,"v":-17.56,"g":"H"},{"p":75,"v":-17.54,"g":"H"},{"p":76,"v":-17.52,"g":"H"},{"p":77,"v":-17.5,"g":"H"},{"p":78,"v":-17.48,"g":"H"},{"p":79,"v":-17.23,"g":"H"},{"p":80,"v":-17.21,"g":"H"},{"p":81,"v":-17.19,"g":"H"},{"p":82,"v":-17.16,"g":"H"},{"p":83,"v":-17.15,"g":"H"},{"p":84,"v":-17.13,"g":"H"},{"p":85,"v":-17.11,"g":"H"},{"p":86,"v":-17.09,"g":"H"},{"p":87,"v":-17.07,"g":"H"},{"p":88,"v":-17.05,"g":"H"},{"p":89,"v":-17.03,"g":"H"},{"p":90,"v":-17.0,"g":"H"},{"p":91,"v":-16.98,"g":"H"},{"p":92,"v":-16.95,"g":"H"},{"p":93,"v":-16.92,"g":"H"},{"p":94,"v":-16.89,"g":"H"},{"p":95,"v":-16.85,"g":"H"},{"p":96,"v":-16.8,"g":"H"},{"p":97,"v":-16.75,"g":"H"},{"p":98,"v":-16.72,"g":"H"},{"p":99,"v":-16.67,"g":"H"},{"p":100,"v":-16.6,"g":"H"},{"p":101,"v":-16.56,"g":"H"},{"p":102,"v":-16.27,"g":"H"},{"p":103,"v":-15.83,"g":"H"}
  ],
  "survI": [
    {"p":1.1,"t":0.9,"s":"A"},{"p":2.4,"t":1.7,"s":"A"},{"p":3.6,"t":2.4,"s":"A"},{"p":4.6,"t":2.2,"s":"A"},{"p":5.6,"t":0.5,"s":"A"},{"p":6.9,"t":3.5,"s":"A"},{"p":8.2,"t":1.6,"s":"A"},{"p":9.4,"t":3.0,"s":"A"},{"p":10.7,"t":3.0,"s":"A"},{"p":11.9,"t":0.5,"s":"A"},{"p":13.2,"t":4.6,"s":"A"},{"p":14.4,"t":1.7,"s":"A"},{"p":15.2,"t":8.3,"s":"A"},{"p":16.5,"t":1.7,"s":"A"},{"p":17.7,"t":0.8,"s":"A"},{"p":19,"t":3.0,"s":"A"},{"p":20,"t":6.2,"s":"D"},{"p":20.7,"t":0.2,"s":"D"},{"p":22,"t":7.4,"s":"A"},{"p":23.3,"t":0.2,"s":"A"},{"p":23.8,"t":7.4,"s":"A"},{"p":25,"t":2.9,"s":"A"},{"p":26.3,"t":1.1,"s":"A"},{"p":27.5,"t":2.0,"s":"D"},{"p":28.8,"t":2.6,"s":"D"},{"p":30,"t":3.3,"s":"A"},{"p":31.3,"t":0.8,"s":"A"},{"p":32.5,"t":4.1,"s":"A"},{"p":33.8,"t":1.7,"s":"A"},{"p":34.8,"t":8.0,"s":"A"},
    {"p":36.1,"t":2.6,"s":"D"},{"p":37.1,"t":9.8,"s":"A"},{"p":38.3,"t":0.6,"s":"A"},{"p":39.6,"t":0.3,"s":"D"},{"p":40.9,"t":5.0,"s":"A"},{"p":42.1,"t":0.3,"s":"A"},{"p":43.4,"t":1.1,"s":"A"},{"p":44.7,"t":1.2,"s":"A"},{"p":45.9,"t":0.2,"s":"D"},{"p":47.2,"t":1.0,"s":"A"},{"p":48.5,"t":0.5,"s":"D"},{"p":49.7,"t":2.0,"s":"D"},{"p":51,"t":2.4,"s":"A"},{"p":52.3,"t":0.8,"s":"A"},{"p":53.5,"t":0.2,"s":"D"},{"p":54.8,"t":6.3,"s":"A"},{"p":56,"t":4.1,"s":"A"},{"p":56.8,"t":2.6,"s":"A"},{"p":57.8,"t":1.1,"s":"A"},{"p":59.1,"t":7.6,"s":"D"},{"p":60.1,"t":0.8,"s":"A"},{"p":61.1,"t":0.5,"s":"A"},{"p":62.4,"t":0.5,"s":"A"},{"p":63.6,"t":15.1,"s":"A"},{"p":64.9,"t":0.3,"s":"D"},{"p":65.9,"t":7.2,"s":"A"},{"p":66.9,"t":6.6,"s":"A"},{"p":67.9,"t":4.0,"s":"D"},{"p":69.2,"t":0.5,"s":"A"},{"p":70.2,"t":1.1,"s":"D"},
    {"p":71.2,"t":2.2,"s":"A"},{"p":72.2,"t":0.2,"s":"D"},{"p":73.2,"t":2.2,"s":"A"},{"p":74,"t":11.5,"s":"A"},{"p":75,"t":0.5,"s":"D"},{"p":76,"t":0.8,"s":"A"},{"p":77,"t":0.3,"s":"A"},{"p":78,"t":0.4,"s":"A"},{"p":79,"t":1.3,"s":"D"},{"p":80,"t":0.8,"s":"D"},{"p":81,"t":0.4,"s":"D"},{"p":82,"t":0.2,"s":"D"},{"p":83,"t":1.1,"s":"A"},{"p":84,"t":8.9,"s":"A"},{"p":85,"t":0.8,"s":"D"},{"p":86,"t":7.2,"s":"A"},{"p":87,"t":0.5,"s":"D"},{"p":88,"t":1.2,"s":"D"},{"p":89,"t":0.2,"s":"D"},{"p":90,"t":0.8,"s":"D"},{"p":91,"t":0.5,"s":"D"},{"p":92,"t":1.0,"s":"D"},{"p":93,"t":0.4,"s":"D"},{"p":94,"t":0.8,"s":"D"},{"p":95,"t":0.2,"s":"D"},{"p":96,"t":5.3,"s":"D"},{"p":97,"t":1.2,"s":"D"},{"p":98,"t":0.5,"s":"D"},{"p":99,"t":1.7,"s":"D"},{"p":100,"t":0.6,"s":"D"},{"p":101,"t":0.2,"s":"D"},{"p":102,"t":0.0,"s":"D"}
  ],
  "coxU": [
    {"row":1,"v":"gender","p":"0.884","hr":0.967,"lo":0.618,"hi":1.513,"txt":"0.967(0.618−1.513)","dir":"lt"},
    {"row":2,"v":"age","p":"<0.001","hr":2.673,"lo":1.701,"hi":4.199,"txt":"2.673(1.701−4.199)","dir":"gt"},
    {"row":3,"v":"FAB","p":"0.058","hr":1.562,"lo":0.984,"hi":2.479,"txt":"1.562(0.984−2.479)","dir":"gt"},
    {"row":4,"v":"WBC","p":"0.135","hr":1.75,"lo":0.841,"hi":3.642,"txt":"1.750(0.841−3.642)","dir":"gt"},
    {"row":5,"v":"Cytogenetics","p":"0.001","hr":3.152,"lo":1.567,"hi":6.342,"txt":"3.152(1.567−6.342)","dir":"gt"},
    {"row":6,"v":"FLT3","p":"0.691","hr":1.102,"lo":0.683,"hi":1.777,"txt":"1.102(0.683−1.777)","dir":"gt"},
    {"row":7,"v":"NPMc","p":"0.497","hr":1.231,"lo":0.675,"hi":2.245,"txt":"1.231(0.675−2.245)","dir":"gt"},
    {"row":8,"v":"riskScore","p":"<0.001","hr":3.825,"lo":2.356,"hi":6.211,"txt":"3.825(2.356−6.211)","dir":"gt"}
  ],
  "coxM": [
    {"row":1,"v":"age","p":"<0.001","hr":2.575,"lo":1.613,"hi":4.112,"txt":"2.575(1.613−4.112)"},
    {"row":2,"v":"Cytogenetics","p":"0.094","hr":1.871,"lo":0.898,"hi":3.899,"txt":"1.871(0.898−3.899)"},
    {"row":3,"v":"riskScore","p":"<0.001","hr":3.753,"lo":2.251,"hi":6.255,"txt":"3.753(2.251−6.255)"}
  ],
  "axLam": [{"v":-6,"s":"-6"},{"v":-5,"s":"-5"},{"v":-4,"s":"-4"},{"v":-3,"s":"-3"},{"v":-2,"s":"-2"}],
  "axCoef": [{"v":-0.2,"s":"-0.2"},{"v":0.2,"s":"0.2"},{"v":0.6,"s":"0.6"}],
  "axDev": [{"v":7.9,"s":"7.9"},{"v":8.1,"s":"8.1"},{"v":8.3,"s":"8.3"},{"v":8.5,"s":"8.5"}],
  "axSurv": [{"v":0,"s":"0.00"},{"v":0.25,"s":"0.25"},{"v":0.5,"s":"0.50"},{"v":0.75,"s":"0.75"},{"v":1,"s":"1.00"}],
  "axT8": [{"v":0,"s":"0"},{"v":1,"s":"1"},{"v":2,"s":"2"},{"v":3,"s":"3"},{"v":4,"s":"4"},{"v":5,"s":"5"},{"v":6,"s":"6"},{"v":7,"s":"7"},{"v":8,"s":"8"}],
  "axT15": [{"v":0,"s":"0"},{"v":1,"s":"1"},{"v":2,"s":"2"},{"v":3,"s":"3"},{"v":4,"s":"4"},{"v":5,"s":"5"},{"v":6,"s":"6"},{"v":7,"s":"7"},{"v":8,"s":"8"},{"v":9,"s":"9"},{"v":10,"s":"10"},{"v":11,"s":"11"},{"v":12,"s":"12"},{"v":13,"s":"13"},{"v":14,"s":"14"},{"v":15,"s":"15"}],
  "axRoc": [{"v":0,"s":"0.0"},{"v":0.2,"s":"0.2"},{"v":0.4,"s":"0.4"},{"v":0.6,"s":"0.6"},{"v":0.8,"s":"0.8"},{"v":1,"s":"1.0"}],
  "axP120": [{"v":0,"s":"0"},{"v":20,"s":"20"},{"v":40,"s":"40"},{"v":60,"s":"60"},{"v":80,"s":"80"},{"v":100,"s":"100"},{"v":120,"s":"120"}],
  "axP100": [{"v":0,"s":"0"},{"v":20,"s":"20"},{"v":40,"s":"40"},{"v":60,"s":"60"},{"v":80,"s":"80"},{"v":100,"s":"100"}],
  "axRF": [{"v":5.5,"s":"5.5"},{"v":6,"s":"6.0"},{"v":6.5,"s":"6.5"},{"v":7,"s":"7.0"},{"v":7.5,"s":"7.5"}],
  "axSF": [{"v":0,"s":"0"},{"v":2,"s":"2"},{"v":4,"s":"4"},{"v":6,"s":"6"},{"v":8,"s":"8"}],
  "axRI": [{"v":-20,"s":"-20"},{"v":-19,"s":"-19"},{"v":-18,"s":"-18"},{"v":-17,"s":"-17"},{"v":-16,"s":"-16"}],
  "axSI": [{"v":0,"s":"0"},{"v":5,"s":"5"},{"v":10,"s":"10"},{"v":15,"s":"15"}],
  "axHR": [{"v":0,"s":"0"},{"v":1,"s":"1"},{"v":2,"s":"2"},{"v":3,"s":"3"},{"v":4,"s":"4"},{"v":5,"s":"5"},{"v":6,"s":"6"}]
},
"layer": [
  {"layer": [
    {"data": {"name": "lasso"}, "mark": {"type": "line", "strokeWidth": 0.9},
     "encoding": {
       "x": {"field": "l", "type": "quantitative", "scale": {"domain": [-6.134, -1.368], "range": [61, 310], "nice": false, "zero": false}, "axis": null},
       "y": {"field": "c", "type": "quantitative", "scale": {"domain": [-0.22, 0.76], "range": [81, 24], "nice": false, "zero": false}, "axis": null},
       "color": {"field": "s", "type": "nominal", "scale": {"domain": ["k1","mg","cy","rd","bl","gr","k2"], "range": ["#111111","#D24FD2","#3FD3DA","#E0605E","#4A8FE6","#72D063","#111111"]}, "legend": null}}},
    {"data": {"values": [{}]}, "mark": {"type": "rect", "fill": null, "stroke": "#333", "strokeWidth": 0.8},
     "encoding": {"x": {"datum": -6.134, "axis": null}, "x2": {"datum": -1.368}, "y": {"datum": -0.22, "axis": null}, "y2": {"datum": 0.76}}},
    {"data": {"name": "axLam"}, "mark": {"type": "tick", "orient": "vertical", "size": 4, "yOffset": 2},
     "encoding": {"x": {"field": "v", "type": "quantitative", "axis": null}, "y": {"datum": -0.22, "axis": null}}},
    {"data": {"name": "axLam"}, "mark": {"type": "text", "fontSize": 7.5, "baseline": "middle", "yOffset": 14},
     "encoding": {"x": {"field": "v", "type": "quantitative", "axis": null}, "y": {"datum": -0.22, "axis": null}, "text": {"field": "s"}}},
    {"data": {"name": "axCoef"}, "mark": {"type": "tick", "orient": "horizontal", "size": 4, "xOffset": -2},
     "encoding": {"x": {"datum": -6.134, "axis": null}, "y": {"field": "v", "type": "quantitative", "axis": null}}},
    {"data": {"name": "axCoef"}, "mark": {"type": "text", "fontSize": 7.5, "angle": 270, "baseline": "middle", "xOffset": -14},
     "encoding": {"x": {"datum": -6.134, "axis": null}, "y": {"field": "v", "type": "quantitative", "axis": null}, "text": {"field": "s"}}},
    {"data": {"values": [{}]}, "mark": {"type": "text", "text": "Log Lambda", "fontSize": 7.5, "baseline": "middle", "yOffset": 27},
     "encoding": {"x": {"datum": -3.79, "axis": null}, "y": {"datum": -0.22, "axis": null}}},
    {"data": {"values": [{}]}, "mark": {"type": "text", "text": "Coefficients", "fontSize": 7.5, "angle": 270, "baseline": "middle", "xOffset": -33},
     "encoding": {"x": {"datum": -6.134, "axis": null}, "y": {"datum": 0.27, "axis": null}}},
    {"data": {"values": [{"l": -6, "n": "7"}, {"l": -5, "n": "7"}, {"l": -4, "n": "6"}, {"l": -3, "n": "6"}, {"l": -2, "n": "4"}]}, "mark": {"type": "text", "fontSize": 8, "baseline": "middle"},
     "encoding": {"x": {"field": "l", "type": "quantitative", "axis": null}, "y": {"datum": 0.966, "axis": null}, "text": {"field": "n"}}},
    {"data": {"values": [{}]}, "mark": {"type": "text", "text": "A", "fontSize": 17.5, "fontWeight": "bold", "baseline": "middle", "color": "#000"},
     "encoding": {"x": {"datum": -7.139, "axis": null}, "y": {"datum": 0.958, "axis": null}}}
  ]},
  {"layer": [
    {"data": {"name": "cv"}, "mark": {"type": "rule", "color": "#A8A8A8", "strokeWidth": 0.7},
     "encoding": {
       "x": {"field": "l", "type": "quantitative", "scale": {"domain": [-6.133, -1.583], "range": [67, 307], "nice": false, "zero": false}, "axis": null},
       "y": {"field": "lo", "type": "quantitative", "scale": {"domain": [7.848, 8.583], "range": [203, 147], "nice": false, "zero": false}, "axis": null},
       "y2": {"field": "hi"}}},
    {"data": {"name": "cv"}, "mark": {"type": "tick", "orient": "horizontal", "size": 3, "thickness": 0.7, "color": "#A8A8A8"},
     "encoding": {"x": {"field": "l", "type": "quantitative", "axis": null}, "y": {"field": "lo", "type": "quantitative", "axis": null}}},
    {"data": {"name": "cv"}, "mark": {"type": "tick", "orient": "horizontal", "size": 3, "thickness": 0.7, "color": "#A8A8A8"},
     "encoding": {"x": {"field": "l", "type": "quantitative", "axis": null}, "y": {"field": "hi", "type": "quantitative", "axis": null}}},
    {"data": {"name": "cv"}, "mark": {"type": "square", "size": 8, "color": "#FF0000", "opacity": 1},
     "encoding": {"x": {"field": "l", "type": "quantitative", "axis": null}, "y": {"field": "d", "type": "quantitative", "axis": null}}},
    {"data": {"values": [{"l": -3.19}, {"l": -1.6}]}, "mark": {"type": "rule", "strokeDash": [1.5, 1.5], "color": "#333", "strokeWidth": 0.7},
     "encoding": {"x": {"field": "l", "type": "quantitative", "axis": null}, "y": {"datum": 7.848, "axis": null}, "y2": {"datum": 8.583}}},
    {"data": {"values": [{"l":-6,"n":"7"},{"l":-5.722,"n":"7"},{"l":-5.444,"n":"7"},{"l":-5.166,"n":"7"},{"l":-4.888,"n":"7"},{"l":-4.61,"n":"7"},{"l":-4.332,"n":"6"},{"l":-4.054,"n":"6"},{"l":-3.776,"n":"6"},{"l":-3.498,"n":"6"},{"l":-3.22,"n":"6"},{"l":-2.942,"n":"6"},{"l":-2.664,"n":"6"},{"l":-2.386,"n":"6"},{"l":-2.108,"n":"4"},{"l":-1.83,"n":"1"}]}, "mark": {"type": "text", "fontSize": 8, "baseline": "middle"},
     "encoding": {"x": {"field": "l", "type": "quantitative", "axis": null}, "y": {"datum": 8.74, "axis": null}, "text": {"field": "n"}}},
    {"data": {"values": [{}]}, "mark": {"type": "rect", "fill": null, "stroke": "#333", "strokeWidth": 0.8},
     "encoding": {"x": {"datum": -6.133, "axis": null}, "x2": {"datum": -1.583}, "y": {"datum": 7.848, "axis": null}, "y2": {"datum": 8.583}}},
    {"data": {"name": "axLam"}, "mark": {"type": "tick", "orient": "vertical", "size": 4, "yOffset": 2},
     "encoding": {"x": {"field": "v", "type": "quantitative", "axis": null}, "y": {"datum": 7.848, "axis": null}}},
    {"data": {"name": "axLam"}, "mark": {"type": "text", "fontSize": 7.5, "baseline": "middle", "yOffset": 14},
     "encoding": {"x": {"field": "v", "type": "quantitative", "axis": null}, "y": {"datum": 7.848, "axis": null}, "text": {"field": "s"}}},
    {"data": {"name": "axDev"}, "mark": {"type": "tick", "orient": "horizontal", "size": 4, "xOffset": -2},
     "encoding": {"x": {"datum": -6.133, "axis": null}, "y": {"field": "v", "type": "quantitative", "axis": null}}},
    {"data": {"name": "axDev"}, "mark": {"type": "text", "fontSize": 7.5, "angle": 270, "baseline": "middle", "xOffset": -12},
     "encoding": {"x": {"datum": -6.133, "axis": null}, "y": {"field": "v", "type": "quantitative", "axis": null}, "text": {"field": "s"}}},
    {"data": {"values": [{}]}, "mark": {"type": "text", "text": "Log(λ)", "fontSize": 7.5, "baseline": "middle", "yOffset": 26.5},
     "encoding": {"x": {"datum": -3.858, "axis": null}, "y": {"datum": 7.848, "axis": null}}},
    {"data": {"values": [{}]}, "mark": {"type": "text", "text": "Partial Likelihood Deviance", "fontSize": 7.5, "angle": 270, "baseline": "middle", "xOffset": -33.7},
     "encoding": {"x": {"datum": -6.133, "axis": null}, "y": {"datum": 8.216, "axis": null}}},
    {"data": {"values": [{}]}, "mark": {"type": "text", "text": "B", "fontSize": 17.5, "fontWeight": "bold", "baseline": "middle", "color": "#000"},
     "encoding": {"x": {"datum": -7.229, "axis": null}, "y": {"datum": 8.616, "axis": null}}}
  ]},
  {"layer": [
    {"data": {"name": "kmC"}, "mark": {"type": "area", "interpolate": "step-after", "opacity": 0.35},
     "encoding": {
       "x": {"field": "t", "type": "quantitative", "scale": {"domain": [-0.39, 8.19], "range": [49, 182], "nice": false, "zero": false}, "axis": null},
       "y": {"field": "lo", "type": "quantitative", "scale": {"domain": [-0.05, 1.05], "range": [391.5, 285.2], "nice": false, "zero": false}, "axis": null},
       "y2": {"field": "hi"},
       "fill": {"field": "g", "type": "nominal", "scale": {"domain": ["High", "Low"], "range": ["#E2603C", "#3B3FA8"]}, "legend": null}}},
    {"data": {"name": "kmC"}, "mark": {"type": "line", "interpolate": "step-after", "strokeWidth": 1},
     "encoding": {"x": {"field": "t", "type": "quantitative", "axis": null}, "y": {"field": "s", "type": "quantitative", "axis": null},
       "stroke": {"field": "g", "type": "nominal", "scale": {"domain": ["High", "Low"], "range": ["#D8372C", "#3A4AA2"]}, "legend": null}}},
    {"data": {"name": "censC"}, "mark": {"type": "point", "shape": "M-1,0L1,0M0,-1L0,1", "size": 16, "strokeWidth": 0.7, "filled": false, "opacity": 1},
     "encoding": {"x": {"field": "t", "type": "quantitative", "axis": null}, "y": {"field": "s", "type": "quantitative", "axis": null}, "stroke": {"field": "g", "type": "nominal", "legend": null}}},
    {"data": {"values": [{"g": "High", "a": 2.468, "b": 3.223}, {"g": "Low", "a": 4.513, "b": 5.268}]}, "mark": {"type": "rect", "opacity": 0.35},
     "encoding": {"x": {"field": "a", "type": "quantitative", "axis": null}, "x2": {"field": "b"}, "y": {"datum": 1.148, "axis": null}, "y2": {"datum": 1.218}, "fill": {"field": "g", "type": "nominal", "legend": null}}},
    {"data": {"values": [{"g": "High", "a": 2.468, "b": 3.223}, {"g": "Low", "a": 4.513, "b": 5.268}]}, "mark": {"type": "rule", "strokeWidth": 1},
     "encoding": {"x": {"field": "a", "type": "quantitative", "axis": null}, "x2": {"field": "b"}, "y": {"datum": 1.183, "axis": null}, "stroke": {"field": "g", "type": "nominal", "legend": null}}},
    {"data": {"values": [{"x": 1.178, "t": "TRPRS"}, {"x": 3.333, "t": "High"}, {"x": 5.333, "t": "Low"}]}, "mark": {"type": "text", "fontSize": 5, "align": "left", "baseline": "middle", "color": "#333"},
     "encoding": {"x": {"field": "x", "type": "quantitative", "axis": null}, "y": {"datum": 1.183, "axis": null}, "text": {"field": "t"}}},
    {"data": {"values": [{}]}, "mark": {"type": "text", "text": "p=9.672e-03", "fontSize": 6.4, "align": "left", "baseline": "middle", "color": "#333"},
     "encoding": {"x": {"datum": 0.107, "axis": null}, "y": {"datum": 0.196, "axis": null}}},
    {"data": {"values": [{}]}, "mark": {"type": "rule", "color": "#222", "strokeWidth": 0.6},
     "encoding": {"x": {"datum": -0.39, "axis": null}, "x2": {"datum": 8.19}, "y": {"datum": -0.05, "axis": null}}},
    {"data": {"values": [{}]}, "mark": {"type": "rule", "color": "#222", "strokeWidth": 0.6},
     "encoding": {"x": {"datum": -0.39, "axis": null}, "y": {"datum": -0.05, "axis": null}, "y2": {"datum": 1.05}}},
    {"data": {"name": "axT8"}, "mark": {"type": "tick", "orient": "vertical", "size": 2, "yOffset": 1},
     "encoding": {"x": {"field": "v", "type": "quantitative", "axis": null}, "y": {"datum": -0.05, "axis": null}}},
    {"data": {"name": "axT8"}, "mark": {"type": "text", "fontSize": 5.5, "baseline": "middle", "yOffset": 4.6, "color": "#444"},
     "encoding": {"x": {"field": "v", "type": "quantitative", "axis": null}, "y": {"datum": -0.05, "axis": null}, "text": {"field": "s"}}},
    {"data": {"name": "axSurv"}, "mark": {"type": "tick", "orient": "horizontal", "size": 2, "xOffset": -1},
     "encoding": {"x": {"datum": -0.39, "axis": null}, "y": {"field": "v", "type": "quantitative", "axis": null}}},
    {"data": {"name": "axSurv"}, "mark": {"type": "text", "fontSize": 5.5, "align": "right", "baseline": "middle", "xOffset": -2.5, "color": "#444"},
     "encoding": {"x": {"datum": -0.39, "axis": null}, "y": {"field": "v", "type": "quantitative", "axis": null}, "text": {"field": "s"}}},
    {"data": {"values": [{}]}, "mark": {"type": "text", "text": "Time(years)", "fontSize": 6.4, "baseline": "middle", "yOffset": 10.5},
     "encoding": {"x": {"datum": 3.87, "axis": null}, "y": {"datum": -0.05, "axis": null}}},
    {"data": {"values": [{}]}, "mark": {"type": "text", "text": "Survival probability", "fontSize": 6.4, "angle": 270, "baseline": "middle", "xOffset": -18},
     "encoding": {"x": {"datum": -0.39, "axis": null}, "y": {"datum": 0.5, "axis": null}}},
    {"data": {"values": [{}]}, "mark": {"type": "text", "text": "C", "fontSize": 17.5, "fontWeight": "bold", "baseline": "middle", "color": "#000"},
     "encoding": {"x": {"datum": -2.855, "axis": null}, "y": {"datum": 1.383, "axis": null}}},
    {"data": {"values": [{}]}, "mark": {"type": "text", "text": "TCGA-LAML", "font": "Lato", "fontSize": 16, "fontWeight": "bold", "baseline": "middle", "color": "#000"},
     "encoding": {"x": {"datum": 2.597, "axis": null}, "y": {"datum": 1.383, "axis": null}}}
  ]},
  {"layer": [
    {"data": {"name": "kmG"}, "mark": {"type": "area", "interpolate": "step-after", "opacity": 0.35},
     "encoding": {
       "x": {"field": "t", "type": "quantitative", "scale": {"domain": [-0.65, 15.35], "range": [45.7, 176.9], "nice": false, "zero": false}, "axis": null},
       "y": {"field": "lo", "type": "quantitative", "scale": {"domain": [-0.05, 1.05], "range": [564.75, 460.25], "nice": false, "zero": false}, "axis": null},
       "y2": {"field": "hi"},
       "fill": {"field": "g", "type": "nominal", "scale": {"domain": ["High", "Low"], "range": ["#E2603C", "#3B3FA8"]}, "legend": null}}},
    {"data": {"name": "kmG"}, "mark": {"type": "line", "interpolate": "step-after", "strokeWidth": 1},
     "encoding": {"x": {"field": "t", "type": "quantitative", "axis": null}, "y": {"field": "s", "type": "quantitative", "axis": null},
       "stroke": {"field": "g", "type": "nominal", "scale": {"domain": ["High", "Low"], "range": ["#D8372C", "#3A4AA2"]}, "legend": null}}},
    {"data": {"name": "censG"}, "mark": {"type": "point", "shape": "M-1,0L1,0M0,-1L0,1", "size": 16, "strokeWidth": 0.7, "filled": false, "opacity": 1},
     "encoding": {"x": {"field": "t", "type": "quantitative", "axis": null}, "y": {"field": "s", "type": "quantitative", "axis": null}, "stroke": {"field": "g", "type": "nominal", "legend": null}}},
    {"data": {"values": [{"g": "High", "a": 4.75, "b": 5.89}, {"g": "Low", "a": 8.2, "b": 9.23}]}, "mark": {"type": "rect", "opacity": 0.35},
     "encoding": {"x": {"field": "a", "type": "quantitative", "axis": null}, "x2": {"field": "b"}, "y": {"datum": 1.14, "axis": null}, "y2": {"datum": 1.211}, "fill": {"field": "g", "type": "nominal", "legend": null}}},
    {"data": {"values": [{"g": "High", "a": 4.75, "b": 5.89}, {"g": "Low", "a": 8.2, "b": 9.23}]}, "mark": {"type": "rule", "strokeWidth": 1},
     "encoding": {"x": {"field": "a", "type": "quantitative", "axis": null}, "x2": {"field": "b"}, "y": {"datum": 1.176, "axis": null}, "stroke": {"field": "g", "type": "nominal", "legend": null}}},
    {"data": {"values": [{"x": 2.106, "t": "TRPRS"}, {"x": 5.97, "t": "High"}, {"x": 9.51, "t": "Low"}]}, "mark": {"type": "text", "fontSize": 5, "align": "left", "baseline": "middle", "color": "#333"},
     "encoding": {"x": {"field": "x", "type": "quantitative", "axis": null}, "y": {"datum": 1.176, "axis": null}, "text": {"field": "t"}}},
    {"data": {"values": [{}]}, "mark": {"type": "text", "text": "p=1.005e-03", "fontSize": 6.4, "align": "left", "baseline": "middle", "color": "#333"},
     "encoding": {"x": {"datum": 0.277, "axis": null}, "y": {"datum": 0.203, "axis": null}}},
    {"data": {"values": [{}]}, "mark": {"type": "rule", "color": "#222", "strokeWidth": 0.6},
     "encoding": {"x": {"datum": -0.65, "axis": null}, "x2": {"datum": 15.35}, "y": {"datum": -0.05, "axis": null}}},
    {"data": {"values": [{}]}, "mark": {"type": "rule", "color": "#222", "strokeWidth": 0.6},
     "encoding": {"x": {"datum": -0.65, "axis": null}, "y": {"datum": -0.05, "axis": null}, "y2": {"datum": 1.05}}},
    {"data": {"name": "axT15"}, "mark": {"type": "tick", "orient": "vertical", "size": 2, "yOffset": 1},
     "encoding": {"x": {"field": "v", "type": "quantitative", "axis": null}, "y": {"datum": -0.05, "axis": null}}},
    {"data": {"name": "axT15"}, "mark": {"type": "text", "fontSize": 5.5, "baseline": "middle", "yOffset": 4.6, "color": "#444"},
     "encoding": {"x": {"field": "v", "type": "quantitative", "axis": null}, "y": {"datum": -0.05, "axis": null}, "text": {"field": "s"}}},
    {"data": {"name": "axSurv"}, "mark": {"type": "tick", "orient": "horizontal", "size": 2, "xOffset": -1},
     "encoding": {"x": {"datum": -0.65, "axis": null}, "y": {"field": "v", "type": "quantitative", "axis": null}}},
    {"data": {"name": "axSurv"}, "mark": {"type": "text", "fontSize": 5.5, "align": "right", "baseline": "middle", "xOffset": -2.5, "color": "#444"},
     "encoding": {"x": {"datum": -0.65, "axis": null}, "y": {"field": "v", "type": "quantitative", "axis": null}, "text": {"field": "s"}}},
    {"data": {"values": [{}]}, "mark": {"type": "text", "text": "Time(years)", "fontSize": 6.4, "baseline": "middle", "yOffset": 11.3},
     "encoding": {"x": {"datum": 7.6, "axis": null}, "y": {"datum": -0.05, "axis": null}}},
    {"data": {"values": [{}]}, "mark": {"type": "text", "text": "Survival probability", "fontSize": 6.4, "angle": 270, "baseline": "middle", "xOffset": -19},
     "encoding": {"x": {"datum": -0.65, "axis": null}, "y": {"datum": 0.5, "axis": null}}},
    {"data": {"values": [{}]}, "mark": {"type": "text", "text": "G", "fontSize": 17.5, "fontWeight": "bold", "baseline": "middle", "color": "#000"},
     "encoding": {"x": {"datum": -4.88, "axis": null}, "y": {"datum": 1.295, "axis": null}}},
    {"data": {"values": [{}]}, "mark": {"type": "text", "text": "GSE71014", "font": "Lato", "fontSize": 16, "fontWeight": "bold", "baseline": "middle", "color": "#000"},
     "encoding": {"x": {"datum": 5.36, "axis": null}, "y": {"datum": 1.29, "axis": null}}}
  ]},
  {"layer": [
    {"data": {"name": "rocD"}, "mark": {"type": "line", "interpolate": "step-before", "strokeWidth": 1.1},
     "encoding": {
       "x": {"field": "x", "type": "quantitative", "scale": {"domain": [-0.04, 1.04], "range": [216.7, 338.3], "nice": false, "zero": false}, "axis": null},
       "y": {"field": "y", "type": "quantitative", "scale": {"domain": [-0.04, 1.04], "range": [384, 280], "nice": false, "zero": false}, "axis": null},
       "stroke": {"field": "c", "type": "nominal", "scale": {"domain": ["1", "2", "3"], "range": ["#55DD33", "#2233EE", "#EE3333"]}, "legend": null}}},
    {"data": {"values": [{}]}, "mark": {"type": "rule", "strokeDash": [1, 1.5], "color": "#555", "strokeWidth": 0.6},
     "encoding": {"x": {"datum": 0, "axis": null}, "y": {"datum": 0, "axis": null}, "x2": {"datum": 1}, "y2": {"datum": 1}}},
    {"data": {"values": [{}]}, "mark": {"type": "rect", "fill": null, "stroke": "#333", "strokeWidth": 0.8},
     "encoding": {"x": {"datum": -0.04, "axis": null}, "x2": {"datum": 1.04}, "y": {"datum": -0.04, "axis": null}, "y2": {"datum": 1.04}}},
    {"data": {"values": [{"c": "1", "y": 0.181, "t": "AUC at 1 years: 0.771"}, {"c": "2", "y": 0.116, "t": "AUC at 2 years: 0.737"}, {"c": "3", "y": 0.043, "t": "AUC at 3 years: 0.754"}]}, "mark": {"type": "rule", "strokeWidth": 1.1},
     "encoding": {"x": {"datum": 0.463, "axis": null}, "x2": {"datum": 0.522}, "y": {"field": "y", "type": "quantitative", "axis": null}, "stroke": {"field": "c", "type": "nominal", "legend": null}}},
    {"data": {"values": [{"c": "1", "y": 0.181, "t": "AUC at 1 years: 0.771"}, {"c": "2", "y": 0.116, "t": "AUC at 2 years: 0.737"}, {"c": "3", "y": 0.043, "t": "AUC at 3 years: 0.754"}]}, "mark": {"type": "text", "fontSize": 5.5, "align": "left", "baseline": "middle", "color": "#222"},
     "encoding": {"x": {"datum": 0.537, "axis": null}, "y": {"field": "y", "type": "quantitative", "axis": null}, "text": {"field": "t"}}},
    {"data": {"name": "axRoc"}, "mark": {"type": "tick", "orient": "vertical", "size": 3, "yOffset": 1.5},
     "encoding": {"x": {"field": "v", "type": "quantitative", "axis": null}, "y": {"datum": -0.04, "axis": null}}},
    {"data": {"name": "axRoc"}, "mark": {"type": "text", "fontSize": 5.5, "baseline": "middle", "yOffset": 8.5},
     "encoding": {"x": {"field": "v", "type": "quantitative", "axis": null}, "y": {"datum": -0.04, "axis": null}, "text": {"field": "s"}}},
    {"data": {"name": "axRoc"}, "mark": {"type": "tick", "orient": "horizontal", "size": 3, "xOffset": -1.5},
     "encoding": {"x": {"datum": -0.04, "axis": null}, "y": {"field": "v", "type": "quantitative", "axis": null}}},
    {"data": {"name": "axRoc"}, "mark": {"type": "text", "fontSize": 5.5, "angle": 270, "baseline": "middle", "xOffset": -12},
     "encoding": {"x": {"datum": -0.04, "axis": null}, "y": {"field": "v", "type": "quantitative", "axis": null}, "text": {"field": "s"}}},
    {"data": {"values": [{}]}, "mark": {"type": "text", "text": "1-Specificity", "fontSize": 5.5, "baseline": "middle", "yOffset": 21.5},
     "encoding": {"x": {"datum": 0.5, "axis": null}, "y": {"datum": -0.04, "axis": null}}},
    {"data": {"values": [{}]}, "mark": {"type": "text", "text": "Sensitivity", "fontSize": 5.5, "angle": 270, "baseline": "middle", "xOffset": -21.5},
     "encoding": {"x": {"datum": -0.04, "axis": null}, "y": {"datum": 0.5, "axis": null}}},
    {"data": {"values": [{}]}, "mark": {"type": "text", "text": "D", "fontSize": 17.5, "fontWeight": "bold", "baseline": "middle", "color": "#000"},
     "encoding": {"x": {"datum": -0.272, "axis": null}, "y": {"datum": 1.315, "axis": null}}},
    {"data": {"values": [{}]}, "mark": {"type": "text", "text": "TCGA-LAML", "font": "Lato", "fontSize": 16, "fontWeight": "bold", "baseline": "middle", "color": "#000"},
     "encoding": {"x": {"datum": 0.418, "axis": null}, "y": {"datum": 1.3, "axis": null}}}
  ]},
  {"layer": [
    {"data": {"name": "rocH"}, "mark": {"type": "line", "interpolate": "step-before", "strokeWidth": 1.1},
     "encoding": {
       "x": {"field": "x", "type": "quantitative", "scale": {"domain": [-0.04, 1.04], "range": [217.3, 336], "nice": false, "zero": false}, "axis": null},
       "y": {"field": "y", "type": "quantitative", "scale": {"domain": [-0.04, 1.04], "range": [551.7, 450], "nice": false, "zero": false}, "axis": null},
       "stroke": {"field": "c", "type": "nominal", "scale": {"domain": ["1", "2", "3"], "range": ["#55DD33", "#2233EE", "#EE3333"]}, "legend": null}}},
    {"data": {"values": [{}]}, "mark": {"type": "rule", "strokeDash": [1, 1.5], "color": "#555", "strokeWidth": 0.6},
     "encoding": {"x": {"datum": 0, "axis": null}, "y": {"datum": 0, "axis": null}, "x2": {"datum": 1}, "y2": {"datum": 1}}},
    {"data": {"values": [{}]}, "mark": {"type": "rect", "fill": null, "stroke": "#333", "strokeWidth": 0.8},
     "encoding": {"x": {"datum": -0.04, "axis": null}, "x2": {"datum": 1.04}, "y": {"datum": -0.04, "axis": null}, "y2": {"datum": 1.04}}},
    {"data": {"values": [{"c": "1", "y": 0.172, "t": "AUC at 1 years: 0.806"}, {"c": "2", "y": 0.109, "t": "AUC at 2 years: 0.866"}, {"c": "3", "y": 0.045, "t": "AUC at 3 years: 0.837"}]}, "mark": {"type": "rule", "strokeWidth": 1.1},
     "encoding": {"x": {"datum": 0.433, "axis": null}, "x2": {"datum": 0.524}, "y": {"field": "y", "type": "quantitative", "axis": null}, "stroke": {"field": "c", "type": "nominal", "legend": null}}},
    {"data": {"values": [{"c": "1", "y": 0.172, "t": "AUC at 1 years: 0.806"}, {"c": "2", "y": 0.109, "t": "AUC at 2 years: 0.866"}, {"c": "3", "y": 0.045, "t": "AUC at 3 years: 0.837"}]}, "mark": {"type": "text", "fontSize": 5.5, "align": "left", "baseline": "middle", "color": "#222"},
     "encoding": {"x": {"datum": 0.546, "axis": null}, "y": {"field": "y", "type": "quantitative", "axis": null}, "text": {"field": "t"}}},
    {"data": {"name": "axRoc"}, "mark": {"type": "tick", "orient": "vertical", "size": 3, "yOffset": 1.5},
     "encoding": {"x": {"field": "v", "type": "quantitative", "axis": null}, "y": {"datum": -0.04, "axis": null}}},
    {"data": {"name": "axRoc"}, "mark": {"type": "text", "fontSize": 5.5, "baseline": "middle", "yOffset": 9.5},
     "encoding": {"x": {"field": "v", "type": "quantitative", "axis": null}, "y": {"datum": -0.04, "axis": null}, "text": {"field": "s"}}},
    {"data": {"name": "axRoc"}, "mark": {"type": "tick", "orient": "horizontal", "size": 3, "xOffset": -1.5},
     "encoding": {"x": {"datum": -0.04, "axis": null}, "y": {"field": "v", "type": "quantitative", "axis": null}}},
    {"data": {"name": "axRoc"}, "mark": {"type": "text", "fontSize": 5.5, "angle": 270, "baseline": "middle", "xOffset": -10},
     "encoding": {"x": {"datum": -0.04, "axis": null}, "y": {"field": "v", "type": "quantitative", "axis": null}, "text": {"field": "s"}}},
    {"data": {"values": [{}]}, "mark": {"type": "text", "text": "1-Specificity", "fontSize": 5.5, "baseline": "middle", "yOffset": 20.6},
     "encoding": {"x": {"datum": 0.5, "axis": null}, "y": {"datum": -0.04, "axis": null}}},
    {"data": {"values": [{}]}, "mark": {"type": "text", "text": "Sensitivity", "fontSize": 5.5, "angle": 270, "baseline": "middle", "xOffset": -20.6},
     "encoding": {"x": {"datum": -0.04, "axis": null}, "y": {"datum": 0.5, "axis": null}}},
    {"data": {"values": [{}]}, "mark": {"type": "text", "text": "H", "fontSize": 17.5, "fontWeight": "bold", "baseline": "middle", "color": "#000"},
     "encoding": {"x": {"datum": -0.288, "axis": null}, "y": {"datum": 1.178, "axis": null}}},
    {"data": {"values": [{}]}, "mark": {"type": "text", "text": "GSE71014", "font": "Lato", "fontSize": 16, "fontWeight": "bold", "baseline": "middle", "color": "#000"},
     "encoding": {"x": {"datum": 0.44, "axis": null}, "y": {"datum": 1.173, "axis": null}}}
  ]},
  {"layer": [
    {"data": {"name": "ageD"}, "mark": {"type": "area", "color": "#EBEBEB", "line": {"color": "#5D5DF2", "strokeWidth": 0.9}},
     "encoding": {
       "x": {"field": "x", "type": "quantitative", "scale": {"domain": [-27, 107], "range": [361.4, 705.3], "nice": false, "zero": false}, "axis": null},
       "y": {"field": "y", "type": "quantitative", "scale": {"domain": [0, 9], "range": [25, 250], "nice": false, "zero": false}, "axis": null},
       "y2": {"datum": 2.668}}},
    {"data": {"name": "riskD"}, "mark": {"type": "area", "color": "#EBEBEB", "line": {"color": "#5D5DF2", "strokeWidth": 0.9}},
     "encoding": {"x": {"field": "x", "type": "quantitative", "axis": null}, "y": {"field": "y", "type": "quantitative", "axis": null}, "y2": {"datum": 3.828}}},
    {"data": {"name": "totD"}, "mark": {"type": "area", "color": "#EBEBEB", "line": {"color": "#5D5DF2", "strokeWidth": 0.9}},
     "encoding": {"x": {"field": "x", "type": "quantitative", "axis": null}, "y": {"field": "y", "type": "quantitative", "axis": null}, "y2": {"datum": 5.668}}},
    {"data": {"name": "nomAx"}, "mark": {"type": "rule", "color": "#8C8C8C", "strokeWidth": 1.2},
     "encoding": {"x": {"field": "a", "type": "quantitative", "axis": null}, "x2": {"field": "b"}, "y": {"field": "y", "type": "quantitative", "axis": null}}},
    {"data": {"name": "nomTk"}, "mark": {"type": "tick", "orient": "vertical", "size": 3, "thickness": 0.8, "color": "#666"},
     "encoding": {"x": {"field": "x", "type": "quantitative", "axis": null}, "y": {"field": "ay", "type": "quantitative", "axis": null}}},
    {"data": {"name": "nomTk"}, "mark": {"type": "text", "fontSize": 7, "baseline": "middle", "color": "#333"},
     "encoding": {"x": {"field": "x", "type": "quantitative", "axis": null}, "y": {"field": "ly", "type": "quantitative", "axis": null}, "text": {"field": "t"}}},
    {"data": {"values": [{"x": -27, "y": 1.27, "t": "Cytogenetics*"}, {"x": -27, "y": 2.33, "t": "Age***"}, {"x": -27, "y": 3.4, "t": "riskScore***"}]}, "mark": {"type": "text", "fontSize": 7.6, "align": "left", "baseline": "middle", "color": "#222"},
     "encoding": {"x": {"field": "x", "type": "quantitative", "axis": null}, "y": {"field": "y", "type": "quantitative", "axis": null}, "text": {"field": "t"}}},
    {"data": {"values": [{"x": -27, "y": 0.43, "t": "Points"}]}, "mark": {"type": "text", "fontSize": 7.2, "fontStyle": "italic", "align": "left", "baseline": "middle", "color": "#222"},
     "encoding": {"x": {"field": "x", "type": "quantitative", "axis": null}, "y": {"field": "y", "type": "quantitative", "axis": null}, "text": {"field": "t"}}},
    {"data": {"values": [{"x": 13.0, "y": 6.5, "t": "Pr( futime > 5 )"}, {"x": -2.0, "y": 7.44, "t": "Pr( futime > 3 )"}, {"x": -4.6, "y": 8.37, "t": "Pr( futime > 1 )"}]}, "mark": {"type": "text", "fontSize": 7, "fontStyle": "italic", "align": "right", "baseline": "middle", "color": "#222"},
     "encoding": {"x": {"field": "x", "type": "quantitative", "axis": null}, "y": {"field": "y", "type": "quantitative", "axis": null}, "text": {"field": "t"}}},
    {"data": {"values": [{}]}, "mark": {"type": "text", "text": "Total points", "fontSize": 7.6, "fontStyle": "italic", "fontWeight": "bold", "align": "left", "baseline": "middle", "color": "#111"},
     "encoding": {"x": {"datum": -27, "axis": null}, "y": {"datum": 4.6, "axis": null}}},
    {"data": {"values": [{"a": 47.5, "b": 58.7}, {"a": 69.8, "b": 71.3}]}, "mark": {"type": "rule", "color": "#C8C8C8", "strokeWidth": 1.5},
     "encoding": {"x": {"field": "a", "type": "quantitative", "axis": null}, "x2": {"field": "b"}, "y": {"datum": 1.508, "axis": null}}},
    {"data": {"values": [{"a": 40.4, "b": 47.5, "c": 1.29, "d": 1.76}, {"a": 58.7, "b": 69.8, "c": 1.16, "d": 1.87}, {"a": 71.3, "b": 77.9, "c": 1.29, "d": 1.76}]}, "mark": {"type": "rect", "fill": "#AEDFD4", "stroke": "#5A6CE6", "strokeWidth": 1},
     "encoding": {"x": {"field": "a", "type": "quantitative", "axis": null}, "x2": {"field": "b"}, "y": {"field": "c", "type": "quantitative", "axis": null}, "y2": {"field": "d"}}},
    {"data": {"values": [{"x": 43.9, "y": 1.27, "t": "Favorable"}, {"x": 74.4, "y": 1.27, "t": "Poor"}, {"x": 63.9, "y": 2.0, "t": "Intermediate"}]}, "mark": {"type": "text", "fontSize": 6.8, "baseline": "middle", "color": "#222"},
     "encoding": {"x": {"field": "x", "type": "quantitative", "axis": null}, "y": {"field": "y", "type": "quantitative", "axis": null}, "text": {"field": "t"}}},
    {"data": {"values": [{"x": 47.39, "a": 0.508, "b": 3.828}, {"x": 55.18, "a": 0.508, "b": 2.668}, {"x": 74.43, "a": 0.508, "b": 1.508}]}, "mark": {"type": "rule", "color": "#E8262A", "strokeWidth": 0.8, "strokeDash": [2, 1.5]},
     "encoding": {"x": {"field": "x", "type": "quantitative", "axis": null}, "y": {"field": "a", "type": "quantitative", "axis": null}, "y2": {"field": "b"}}},
    {"data": {"values": [{}]}, "mark": {"type": "rule", "color": "#E8262A", "strokeWidth": 1.1},
     "encoding": {"x": {"datum": 74.43, "axis": null}, "y": {"datum": 5.668, "axis": null}, "y2": {"datum": 8.4}}},
    {"data": {"values": [{"x": 47.39, "y": 0.508}, {"x": 55.18, "y": 0.508}, {"x": 74.43, "y": 0.508}, {"x": 47.39, "y": 3.828}, {"x": 55.18, "y": 2.668}, {"x": 74.43, "y": 1.508}, {"x": 74.43, "y": 5.668}]}, "mark": {"type": "circle", "size": 14, "color": "#E8262A", "opacity": 1},
     "encoding": {"x": {"field": "x", "type": "quantitative", "axis": null}, "y": {"field": "y", "type": "quantitative", "axis": null}}},
    {"data": {"values": [{"x": 74.43, "y": 6.45}, {"x": 74.43, "y": 7.39}, {"x": 74.43, "y": 8.32}]}, "mark": {"type": "point", "shape": "triangle-down", "size": 34, "filled": true, "color": "#E8262A", "opacity": 1},
     "encoding": {"x": {"field": "x", "type": "quantitative", "axis": null}, "y": {"field": "y", "type": "quantitative", "axis": null}}},
    {"data": {"values": [{"y": 6.33, "t": "0.00581"}, {"y": 7.29, "t": "0.0408"}, {"y": 8.24, "t": "0.327"}]}, "mark": {"type": "text", "fontSize": 7.5, "fontStyle": "italic", "align": "right", "baseline": "middle", "color": "#E8262A"},
     "encoding": {"x": {"datum": 72.72, "axis": null}, "y": {"field": "y", "type": "quantitative", "axis": null}, "text": {"field": "t"}}},
    {"data": {"values": [{}]}, "mark": {"type": "text", "text": "175", "fontSize": 7.5, "fontStyle": "italic", "baseline": "middle", "color": "#E8262A"},
     "encoding": {"x": {"datum": 75.06, "axis": null}, "y": {"datum": 5.49, "axis": null}}},
    {"data": {"values": [{}]}, "mark": {"type": "text", "text": "E", "fontSize": 17.5, "fontWeight": "bold", "baseline": "middle", "color": "#000"},
     "encoding": {"x": {"datum": -25.6, "axis": null}, "y": {"datum": -0.56, "axis": null}}}
  ]},
  {"layer": [
    {"data": {"name": "riskF"}, "mark": {"type": "circle", "size": 5, "opacity": 1},
     "encoding": {
       "x": {"field": "p", "type": "quantitative", "scale": {"domain": [-5, 138.5], "range": [377.3, 519.7], "nice": false, "zero": false}, "axis": null},
       "y": {"field": "v", "type": "quantitative", "scale": {"domain": [5.056, 7.92], "range": [416.3, 329.3], "nice": false, "zero": false}, "axis": null},
       "color": {"field": "g", "type": "nominal", "scale": {"domain": ["H", "L"], "range": ["#FF0000", "#0000FF"]}, "legend": null}}},
    {"data": {"values": [{}]}, "mark": {"type": "rule", "strokeDash": [1.5, 1.5], "color": "#555", "strokeWidth": 0.6},
     "encoding": {"x": {"datum": -5, "axis": null}, "x2": {"datum": 138.5}, "y": {"datum": 6.24, "axis": null}}},
    {"data": {"values": [{}]}, "mark": {"type": "rule", "strokeDash": [1.5, 1.5], "color": "#555", "strokeWidth": 0.6},
     "encoding": {"x": {"datum": 66.5, "axis": null}, "y": {"datum": 5.056, "axis": null}, "y2": {"datum": 7.92}}},
    {"data": {"values": [{}]}, "mark": {"type": "rect", "fill": null, "stroke": "#444", "strokeWidth": 0.6},
     "encoding": {"x": {"datum": -5, "axis": null}, "x2": {"datum": 138.5}, "y": {"datum": 5.056, "axis": null}, "y2": {"datum": 7.92}}},
    {"data": {"values": [{"g": "H", "v": 7.63}, {"g": "L", "v": 7.479}]}, "mark": {"type": "circle", "size": 5, "opacity": 1},
     "encoding": {"x": {"datum": 0.04, "axis": null}, "y": {"field": "v", "type": "quantitative", "axis": null}, "color": {"field": "g", "type": "nominal", "legend": null}}},
    {"data": {"values": [{"x": -1.57, "v": 7.775, "t": "TRPRS"}, {"x": 3.47, "v": 7.63, "t": "High"}, {"x": 3.47, "v": 7.479, "t": "Low"}]}, "mark": {"type": "text", "fontSize": 4, "align": "left", "baseline": "middle", "color": "#333"},
     "encoding": {"x": {"field": "x", "type": "quantitative", "axis": null}, "y": {"field": "v", "type": "quantitative", "axis": null}, "text": {"field": "t"}}},
    {"data": {"name": "axP120"}, "mark": {"type": "tick", "orient": "vertical", "size": 2, "yOffset": 1},
     "encoding": {"x": {"field": "v", "type": "quantitative", "axis": null}, "y": {"datum": 5.056, "axis": null}}},
    {"data": {"name": "axP120"}, "mark": {"type": "text", "fontSize": 4, "baseline": "middle", "yOffset": 4.5},
     "encoding": {"x": {"field": "v", "type": "quantitative", "axis": null}, "y": {"datum": 5.056, "axis": null}, "text": {"field": "s"}}},
    {"data": {"name": "axRF"}, "mark": {"type": "tick", "orient": "horizontal", "size": 2, "xOffset": -1},
     "encoding": {"x": {"datum": -5, "axis": null}, "y": {"field": "v", "type": "quantitative", "axis": null}}},
    {"data": {"name": "axRF"}, "mark": {"type": "text", "fontSize": 4, "angle": 270, "baseline": "middle", "xOffset": -5},
     "encoding": {"x": {"datum": -5, "axis": null}, "y": {"field": "v", "type": "quantitative", "axis": null}, "text": {"field": "s"}}},
    {"data": {"values": [{}]}, "mark": {"type": "text", "text": "Risk score", "fontSize": 4, "angle": 270, "baseline": "middle", "xOffset": -13.3},
     "encoding": {"x": {"datum": -5, "axis": null}, "y": {"datum": 6.488, "axis": null}}},
    {"data": {"values": [{}]}, "mark": {"type": "text", "text": "F", "fontSize": 17.5, "fontWeight": "bold", "baseline": "middle", "color": "#000"},
     "encoding": {"x": {"datum": -18.0, "axis": null}, "y": {"datum": 9.312, "axis": null}}},
    {"data": {"values": [{}]}, "mark": {"type": "text", "text": "TCGA-LAML", "font": "Lato", "fontSize": 16, "fontWeight": "bold", "baseline": "middle", "color": "#000"},
     "encoding": {"x": {"datum": 59.5, "axis": null}, "y": {"datum": 8.611, "axis": null}}}
  ]},
  {"layer": [
    {"data": {"name": "survF"}, "mark": {"type": "circle", "size": 7, "opacity": 1},
     "encoding": {
       "x": {"field": "p", "type": "quantitative", "scale": {"domain": [-4.78, 136.9], "range": [375.7, 524], "nice": false, "zero": false}, "axis": null},
       "y": {"field": "t", "type": "quantitative", "scale": {"domain": [-0.24, 8.17], "range": [525.3, 435.3], "nice": false, "zero": false}, "axis": null},
       "color": {"field": "s", "type": "nominal", "scale": {"domain": ["D", "A"], "range": ["#FF0000", "#0000FF"]}, "legend": null}}},
    {"data": {"values": [{}]}, "mark": {"type": "rule", "strokeDash": [1.5, 1.5], "color": "#555", "strokeWidth": 0.6},
     "encoding": {"x": {"datum": 66, "axis": null}, "y": {"datum": -0.24, "axis": null}, "y2": {"datum": 8.17}}},
    {"data": {"values": [{}]}, "mark": {"type": "rect", "fill": null, "stroke": "#444", "strokeWidth": 0.6},
     "encoding": {"x": {"datum": -4.78, "axis": null}, "x2": {"datum": 136.9}, "y": {"datum": -0.24, "axis": null}, "y2": {"datum": 8.17}}},
    {"data": {"values": [{"s": "D", "t": 7.703}, {"s": "A", "t": 7.17}]}, "mark": {"type": "circle", "size": 7, "opacity": 1},
     "encoding": {"x": {"datum": 0.0, "axis": null}, "y": {"field": "t", "type": "quantitative", "axis": null}, "color": {"field": "s", "type": "nominal", "legend": null}}},
    {"data": {"values": [{"t": 7.703, "n": "Dead"}, {"t": 7.17, "n": "Alive"}]}, "mark": {"type": "text", "fontSize": 4.5, "align": "left", "baseline": "middle", "color": "#333"},
     "encoding": {"x": {"datum": 3.8, "axis": null}, "y": {"field": "t", "type": "quantitative", "axis": null}, "text": {"field": "n"}}},
    {"data": {"name": "axP120"}, "mark": {"type": "tick", "orient": "vertical", "size": 2, "yOffset": 1},
     "encoding": {"x": {"field": "v", "type": "quantitative", "axis": null}, "y": {"datum": -0.24, "axis": null}}},
    {"data": {"name": "axP120"}, "mark": {"type": "text", "fontSize": 4, "baseline": "middle", "yOffset": 6.7},
     "encoding": {"x": {"field": "v", "type": "quantitative", "axis": null}, "y": {"datum": -0.24, "axis": null}, "text": {"field": "s"}}},
    {"data": {"name": "axSF"}, "mark": {"type": "tick", "orient": "horizontal", "size": 2, "xOffset": -1},
     "encoding": {"x": {"datum": -4.78, "axis": null}, "y": {"field": "v", "type": "quantitative", "axis": null}}},
    {"data": {"name": "axSF"}, "mark": {"type": "text", "fontSize": 4, "angle": 270, "baseline": "middle", "xOffset": -4},
     "encoding": {"x": {"datum": -4.78, "axis": null}, "y": {"field": "v", "type": "quantitative", "axis": null}, "text": {"field": "s"}}},
    {"data": {"values": [{}]}, "mark": {"type": "text", "text": "Patients (increasing risk score)", "fontSize": 4, "baseline": "middle", "yOffset": 15.7},
     "encoding": {"x": {"datum": 66.04, "axis": null}, "y": {"datum": -0.24, "axis": null}}},
    {"data": {"values": [{}]}, "mark": {"type": "text", "text": "Survival time (years)", "fontSize": 4, "angle": 270, "baseline": "middle", "xOffset": -12.4},
     "encoding": {"x": {"datum": -4.78, "axis": null}, "y": {"datum": 3.964, "axis": null}}}
  ]},
  {"layer": [
    {"data": {"name": "riskI"}, "mark": {"type": "circle", "size": 5, "opacity": 1},
     "encoding": {
       "x": {"field": "p", "type": "quantitative", "scale": {"domain": [-3.88, 107.75], "range": [561.3, 705.3], "nice": false, "zero": false}, "axis": null},
       "y": {"field": "v", "type": "quantitative", "scale": {"domain": [-20.21, -15.71], "range": [416, 327], "nice": false, "zero": false}, "axis": null},
       "color": {"field": "g", "type": "nominal", "scale": {"domain": ["H", "L"], "range": ["#FF0000", "#0000FF"]}, "legend": null}}},
    {"data": {"values": [{}]}, "mark": {"type": "rule", "strokeDash": [1.5, 1.5], "color": "#555", "strokeWidth": 0.6},
     "encoding": {"x": {"datum": -3.88, "axis": null}, "x2": {"datum": 107.75}, "y": {"datum": -17.99, "axis": null}}},
    {"data": {"values": [{}]}, "mark": {"type": "rule", "strokeDash": [1.5, 1.5], "color": "#555", "strokeWidth": 0.6},
     "encoding": {"x": {"datum": 51.5, "axis": null}, "y": {"datum": -20.21, "axis": null}, "y2": {"datum": -15.71}}},
    {"data": {"values": [{}]}, "mark": {"type": "rect", "fill": null, "stroke": "#444", "strokeWidth": 0.6},
     "encoding": {"x": {"datum": -3.88, "axis": null}, "x2": {"datum": 107.75}, "y": {"datum": -20.21, "axis": null}, "y2": {"datum": -15.71}}},
    {"data": {"values": [{"g": "H", "v": -16.18}, {"g": "L", "v": -16.418}]}, "mark": {"type": "circle", "size": 5, "opacity": 1},
     "encoding": {"x": {"datum": -0.78, "axis": null}, "y": {"field": "v", "type": "quantitative", "axis": null}, "color": {"field": "g", "type": "nominal", "legend": null}}},
    {"data": {"values": [{"x": -1.56, "v": -15.963, "t": "TRPRS"}, {"x": 1.3, "v": -16.18, "t": "High"}, {"x": 1.3, "v": -16.418, "t": "Low"}]}, "mark": {"type": "text", "fontSize": 4, "align": "left", "baseline": "middle", "color": "#333"},
     "encoding": {"x": {"field": "x", "type": "quantitative", "axis": null}, "y": {"field": "v", "type": "quantitative", "axis": null}, "text": {"field": "t"}}},
    {"data": {"name": "axP100"}, "mark": {"type": "tick", "orient": "vertical", "size": 2, "yOffset": 1},
     "encoding": {"x": {"field": "v", "type": "quantitative", "axis": null}, "y": {"datum": -20.21, "axis": null}}},
    {"data": {"name": "axP100"}, "mark": {"type": "text", "fontSize": 4, "baseline": "middle", "yOffset": 4.5},
     "encoding": {"x": {"field": "v", "type": "quantitative", "axis": null}, "y": {"datum": -20.21, "axis": null}, "text": {"field": "s"}}},
    {"data": {"name": "axRI"}, "mark": {"type": "tick", "orient": "horizontal", "size": 2, "xOffset": -1},
     "encoding": {"x": {"datum": -3.88, "axis": null}, "y": {"field": "v", "type": "quantitative", "axis": null}}},
    {"data": {"name": "axRI"}, "mark": {"type": "text", "fontSize": 4, "angle": 270, "baseline": "middle", "xOffset": -6.6},
     "encoding": {"x": {"datum": -3.88, "axis": null}, "y": {"field": "v", "type": "quantitative", "axis": null}, "text": {"field": "s"}}},
    {"data": {"values": [{}]}, "mark": {"type": "text", "text": "Risk score", "fontSize": 4, "angle": 270, "baseline": "middle", "xOffset": -14.3},
     "encoding": {"x": {"datum": -3.88, "axis": null}, "y": {"datum": -17.96, "axis": null}}},
    {"data": {"values": [{}]}, "mark": {"type": "text", "text": "I", "fontSize": 17.5, "fontWeight": "bold", "baseline": "middle", "color": "#000"},
     "encoding": {"x": {"datum": -19.85, "axis": null}, "y": {"datum": -13.673, "axis": null}}},
    {"data": {"values": [{}]}, "mark": {"type": "text", "text": "GSE71014", "font": "Lato", "fontSize": 16, "fontWeight": "bold", "baseline": "middle", "color": "#000"},
     "encoding": {"x": {"datum": 44.4, "axis": null}, "y": {"datum": -14.765, "axis": null}}}
  ]},
  {"layer": [
    {"data": {"name": "survI"}, "mark": {"type": "circle", "size": 7, "opacity": 1},
     "encoding": {
       "x": {"field": "p", "type": "quantitative", "scale": {"domain": [-2.5, 108.4], "range": [559.7, 705.3], "nice": false, "zero": false}, "axis": null},
       "y": {"field": "t", "type": "quantitative", "scale": {"domain": [-0.77, 15.72], "range": [527, 435.3], "nice": false, "zero": false}, "axis": null},
       "color": {"field": "s", "type": "nominal", "scale": {"domain": ["D", "A"], "range": ["#FF0000", "#0000FF"]}, "legend": null}}},
    {"data": {"values": [{}]}, "mark": {"type": "rule", "strokeDash": [1.5, 1.5], "color": "#555", "strokeWidth": 0.6},
     "encoding": {"x": {"datum": 52, "axis": null}, "y": {"datum": -0.77, "axis": null}, "y2": {"datum": 15.72}}},
    {"data": {"values": [{}]}, "mark": {"type": "rect", "fill": null, "stroke": "#444", "strokeWidth": 0.6},
     "encoding": {"x": {"datum": -2.5, "axis": null}, "x2": {"datum": 108.4}, "y": {"datum": -0.77, "axis": null}, "y2": {"datum": 15.72}}},
    {"data": {"values": [{"s": "D", "t": 14.82}, {"s": "A", "t": 13.8}]}, "mark": {"type": "circle", "size": 7, "opacity": 1},
     "encoding": {"x": {"datum": -0.22, "axis": null}, "y": {"field": "t", "type": "quantitative", "axis": null}, "color": {"field": "s", "type": "nominal", "legend": null}}},
    {"data": {"values": [{"t": 14.82, "n": "Dead"}, {"t": 13.8, "n": "Alive"}]}, "mark": {"type": "text", "fontSize": 4.5, "align": "left", "baseline": "middle", "color": "#333"},
     "encoding": {"x": {"datum": 2.5, "axis": null}, "y": {"field": "t", "type": "quantitative", "axis": null}, "text": {"field": "n"}}},
    {"data": {"name": "axP100"}, "mark": {"type": "tick", "orient": "vertical", "size": 2, "yOffset": 1},
     "encoding": {"x": {"field": "v", "type": "quantitative", "axis": null}, "y": {"datum": -0.77, "axis": null}}},
    {"data": {"name": "axP100"}, "mark": {"type": "text", "fontSize": 4, "baseline": "middle", "yOffset": 6.7},
     "encoding": {"x": {"field": "v", "type": "quantitative", "axis": null}, "y": {"datum": -0.77, "axis": null}, "text": {"field": "s"}}},
    {"data": {"name": "axSI"}, "mark": {"type": "tick", "orient": "horizontal", "size": 2, "xOffset": -1},
     "encoding": {"x": {"datum": -2.5, "axis": null}, "y": {"field": "v", "type": "quantitative", "axis": null}}},
    {"data": {"name": "axSI"}, "mark": {"type": "text", "fontSize": 4, "angle": 270, "baseline": "middle", "xOffset": -5},
     "encoding": {"x": {"datum": -2.5, "axis": null}, "y": {"field": "v", "type": "quantitative", "axis": null}, "text": {"field": "s"}}},
    {"data": {"values": [{}]}, "mark": {"type": "text", "text": "Patients (increasing risk score)", "fontSize": 4, "baseline": "middle", "yOffset": 15},
     "encoding": {"x": {"datum": 52.95, "axis": null}, "y": {"datum": -0.77, "axis": null}}},
    {"data": {"values": [{}]}, "mark": {"type": "text", "text": "Survival time (years)", "fontSize": 4, "angle": 270, "baseline": "middle", "xOffset": -12.7},
     "encoding": {"x": {"datum": -2.5, "axis": null}, "y": {"datum": 7.475, "axis": null}}}
  ]},
  {"layer": [
    {"data": {"name": "coxU"}, "mark": {"type": "rule", "color": "#2B2BA5", "strokeWidth": 1.2},
     "encoding": {
       "x": {"field": "lo", "type": "quantitative", "scale": {"domain": [-8, 6.35], "range": [78, 278.9], "nice": false, "zero": false}, "axis": null},
       "x2": {"field": "hi"},
       "y": {"field": "row", "type": "quantitative", "scale": {"domain": [-0.4, 8.37], "range": [635, 810.4], "nice": false, "zero": false}, "axis": null}}},
    {"data": {"name": "coxU"}, "mark": {"type": "tick", "orient": "vertical", "size": 5, "thickness": 1.2, "color": "#2B2BA5"},
     "encoding": {"x": {"field": "lo", "type": "quantitative", "axis": null}, "y": {"field": "row", "type": "quantitative", "axis": null}}},
    {"data": {"name": "coxU"}, "mark": {"type": "tick", "orient": "vertical", "size": 5, "thickness": 1.2, "color": "#2B2BA5"},
     "encoding": {"x": {"field": "hi", "type": "quantitative", "axis": null}, "y": {"field": "row", "type": "quantitative", "axis": null}}},
    {"data": {"name": "coxU"}, "mark": {"type": "square", "size": 26, "opacity": 1},
     "encoding": {"x": {"field": "hr", "type": "quantitative", "axis": null}, "y": {"field": "row", "type": "quantitative", "axis": null}, "color": {"field": "dir", "type": "nominal", "scale": {"domain": ["lt", "gt"], "range": ["#1E3DEB", "#E8191C"]}, "legend": null}}},
    {"data": {"values": [{}]}, "mark": {"type": "rule", "color": "#111", "strokeWidth": 1, "strokeDash": [3, 2]},
     "encoding": {"x": {"datum": 1, "axis": null}, "y": {"datum": -0.25, "axis": null}, "y2": {"datum": 8.37}}},
    {"data": {"values": [{}]}, "mark": {"type": "rule", "color": "#222", "strokeWidth": 0.8},
     "encoding": {"x": {"datum": 0, "axis": null}, "x2": {"datum": 6}, "y": {"datum": 8.37, "axis": null}}},
    {"data": {"name": "axHR"}, "mark": {"type": "tick", "orient": "vertical", "size": 3, "yOffset": 1.5, "thickness": 0.8},
     "encoding": {"x": {"field": "v", "type": "quantitative", "axis": null}, "y": {"datum": 8.37, "axis": null}}},
    {"data": {"name": "axHR"}, "mark": {"type": "text", "fontSize": 7, "baseline": "middle", "yOffset": 6.6},
     "encoding": {"x": {"field": "v", "type": "quantitative", "axis": null}, "y": {"datum": 8.37, "axis": null}, "text": {"field": "s"}}},
    {"data": {"name": "coxU"}, "mark": {"type": "text", "fontSize": 4.8, "align": "left", "baseline": "middle", "color": "#333"},
     "encoding": {"x": {"datum": -7.79, "axis": null}, "y": {"field": "row", "type": "quantitative", "axis": null}, "text": {"field": "v"}}},
    {"data": {"name": "coxU"}, "mark": {"type": "text", "fontSize": 4.8, "align": "right", "baseline": "middle", "color": "#333"},
     "encoding": {"x": {"datum": -4.71, "axis": null}, "y": {"field": "row", "type": "quantitative", "axis": null}, "text": {"field": "p"}}},
    {"data": {"name": "coxU"}, "mark": {"type": "text", "fontSize": 4.8, "align": "left", "baseline": "middle", "color": "#333"},
     "encoding": {"x": {"datum": -4.41, "axis": null}, "y": {"field": "row", "type": "quantitative", "axis": null}, "text": {"field": "txt"}}},
    {"data": {"values": [{"x": -5.29, "t": "pvalue"}, {"x": -2.24, "t": "Hazard ratio"}]}, "mark": {"type": "text", "fontSize": 5, "baseline": "middle", "color": "#333"},
     "encoding": {"x": {"field": "x", "type": "quantitative", "axis": null}, "y": {"datum": 0, "axis": null}, "text": {"field": "t"}}},
    {"data": {"values": [{}]}, "mark": {"type": "text", "text": "Hazard ratio", "fontSize": 6, "baseline": "middle", "color": "#222"},
     "encoding": {"x": {"datum": 3.05, "axis": null}, "y": {"datum": 9.215, "axis": null}}},
    {"data": {"values": [{}]}, "mark": {"type": "text", "text": "J", "fontSize": 17.5, "fontWeight": "bold", "baseline": "middle", "color": "#000"},
     "encoding": {"x": {"datum": -12.8, "axis": null}, "y": {"datum": -1.25, "axis": null}}},
    {"data": {"values": [{}]}, "mark": {"type": "text", "text": "Univariate cox regression", "font": "Lato", "fontSize": 17.5, "fontWeight": "bold", "baseline": "middle", "color": "#000"},
     "encoding": {"x": {"datum": -0.786, "axis": null}, "y": {"datum": -1.25, "axis": null}}}
  ]},
  {"layer": [
    {"data": {"name": "coxM"}, "mark": {"type": "rule", "color": "#2323A8", "strokeWidth": 1.3},
     "encoding": {
       "x": {"field": "lo", "type": "quantitative", "scale": {"domain": [-7.9, 6.4], "range": [433.25, 683.5], "nice": false, "zero": false}, "axis": null},
       "x2": {"field": "hi"},
       "y": {"field": "row", "type": "quantitative", "scale": {"domain": [-0.2, 3.15], "range": [648, 799.4], "nice": false, "zero": false}, "axis": null}}},
    {"data": {"name": "coxM"}, "mark": {"type": "tick", "orient": "vertical", "size": 6.5, "thickness": 1.3, "color": "#2323A8"},
     "encoding": {"x": {"field": "lo", "type": "quantitative", "axis": null}, "y": {"field": "row", "type": "quantitative", "axis": null}}},
    {"data": {"name": "coxM"}, "mark": {"type": "tick", "orient": "vertical", "size": 6.5, "thickness": 1.3, "color": "#2323A8"},
     "encoding": {"x": {"field": "hi", "type": "quantitative", "axis": null}, "y": {"field": "row", "type": "quantitative", "axis": null}}},
    {"data": {"name": "coxM"}, "mark": {"type": "square", "size": 42, "color": "#E8191C", "opacity": 1},
     "encoding": {"x": {"field": "hr", "type": "quantitative", "axis": null}, "y": {"field": "row", "type": "quantitative", "axis": null}}},
    {"data": {"values": [{}]}, "mark": {"type": "rule", "color": "#111", "strokeWidth": 1, "strokeDash": [3, 2.5]},
     "encoding": {"x": {"datum": 1, "axis": null}, "y": {"datum": -0.083, "axis": null}, "y2": {"datum": 3.15}}},
    {"data": {"values": [{}]}, "mark": {"type": "rule", "color": "#222", "strokeWidth": 0.8},
     "encoding": {"x": {"datum": 0, "axis": null}, "x2": {"datum": 6}, "y": {"datum": 3.15, "axis": null}}},
    {"data": {"name": "axHR"}, "mark": {"type": "tick", "orient": "vertical", "size": 3.5, "yOffset": 1.75, "thickness": 0.8},
     "encoding": {"x": {"field": "v", "type": "quantitative", "axis": null}, "y": {"datum": 3.15, "axis": null}}},
    {"data": {"name": "axHR"}, "mark": {"type": "text", "fontSize": 8.5, "baseline": "middle", "yOffset": 9},
     "encoding": {"x": {"field": "v", "type": "quantitative", "axis": null}, "y": {"datum": 3.15, "axis": null}, "text": {"field": "s"}}},
    {"data": {"name": "coxM"}, "mark": {"type": "text", "fontSize": 6, "align": "left", "baseline": "middle", "color": "#333"},
     "encoding": {"x": {"datum": -7.7, "axis": null}, "y": {"field": "row", "type": "quantitative", "axis": null}, "text": {"field": "v"}}},
    {"data": {"name": "coxM"}, "mark": {"type": "text", "fontSize": 6, "align": "right", "baseline": "middle", "color": "#333"},
     "encoding": {"x": {"datum": -4.71, "axis": null}, "y": {"field": "row", "type": "quantitative", "axis": null}, "text": {"field": "p"}}},
    {"data": {"name": "coxM"}, "mark": {"type": "text", "fontSize": 6, "align": "left", "baseline": "middle", "color": "#333"},
     "encoding": {"x": {"datum": -4.58, "axis": null}, "y": {"field": "row", "type": "quantitative", "axis": null}, "text": {"field": "txt"}}},
    {"data": {"values": [{"x": -5.19, "t": "pvalue"}, {"x": -2.21, "t": "Hazard ratio"}]}, "mark": {"type": "text", "fontSize": 6.3, "baseline": "middle", "color": "#333"},
     "encoding": {"x": {"field": "x", "type": "quantitative", "axis": null}, "y": {"datum": 0, "axis": null}, "text": {"field": "t"}}},
    {"data": {"values": [{}]}, "mark": {"type": "text", "text": "Hazard ratio", "fontSize": 7.5, "baseline": "middle", "color": "#222"},
     "encoding": {"x": {"datum": 3.15, "axis": null}, "y": {"datum": 3.606, "axis": null}}},
    {"data": {"values": [{}]}, "mark": {"type": "text", "text": "K", "fontSize": 17.5, "fontWeight": "bold", "baseline": "middle", "color": "#000"},
     "encoding": {"x": {"datum": -12.0, "axis": null}, "y": {"datum": -0.864, "axis": null}}},
    {"data": {"values": [{}]}, "mark": {"type": "text", "text": "Multivariate cox regression", "font": "Lato", "fontSize": 17.5, "fontWeight": "bold", "baseline": "middle", "color": "#000"},
     "encoding": {"x": {"datum": -1.971, "axis": null}, "y": {"datum": -0.864, "axis": null}}}
  ]}
],
"resolve": {"scale": {"x": "independent", "y": "independent", "color": "independent", "fill": "independent", "stroke": "independent"}}
}
